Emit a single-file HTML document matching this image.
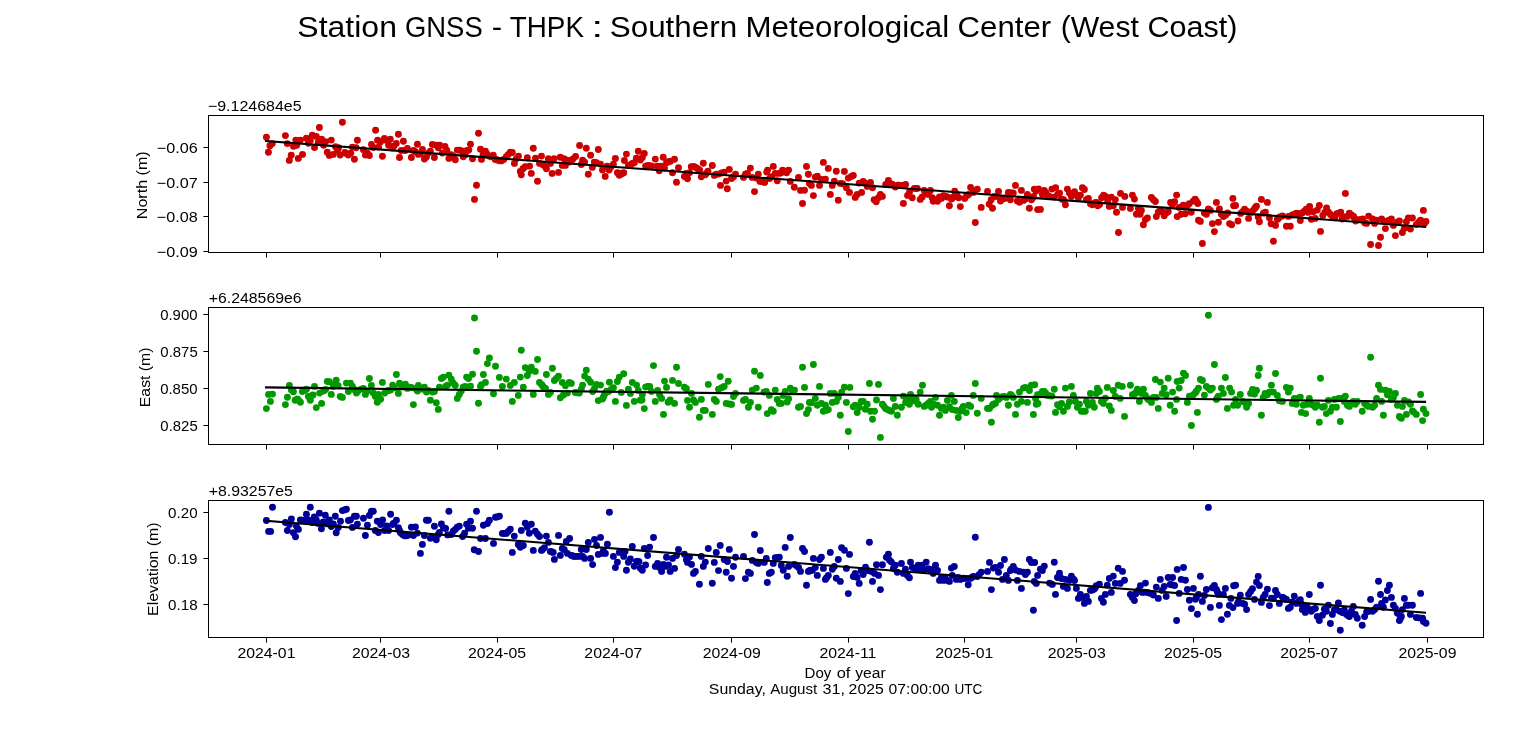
<!DOCTYPE html>
<html lang="en"><head><meta charset="utf-8"><title>Station GNSS - THPK</title>
<style>html,body{margin:0;padding:0;background:#fff;overflow:hidden}body{width:1536px;height:754px;font-family:"Liberation Sans", sans-serif}</style></head>
<body>
<svg width="1536" height="754" viewBox="0 0 1536 754" style="display:block;font-family:'Liberation Sans',sans-serif" fill="#000">
<rect width="1536" height="754" fill="#fff"/>
<g>
<g fill="#cc0000"><circle cx="294.7" cy="145.8" r="3.45"/><circle cx="393.8" cy="146.3" r="3.45"/><circle cx="496.8" cy="159.8" r="3.45"/><circle cx="508.2" cy="154.6" r="3.45"/><circle cx="542.5" cy="164.4" r="3.45"/><circle cx="573.0" cy="159.0" r="3.45"/><circle cx="622.6" cy="173.3" r="3.45"/><circle cx="706.5" cy="173.2" r="3.45"/><circle cx="721.7" cy="173.0" r="3.45"/><circle cx="763.7" cy="182.0" r="3.45"/><circle cx="851.3" cy="176.5" r="3.45"/><circle cx="868.5" cy="184.8" r="3.45"/><circle cx="891.4" cy="184.1" r="3.45"/><circle cx="899.0" cy="185.2" r="3.45"/><circle cx="916.2" cy="188.4" r="3.45"/><circle cx="952.4" cy="198.0" r="3.45"/><circle cx="967.6" cy="195.1" r="3.45"/><circle cx="1011.5" cy="192.8" r="3.45"/><circle cx="1032.5" cy="198.1" r="3.45"/><circle cx="1045.8" cy="192.8" r="3.45"/><circle cx="1095.4" cy="202.7" r="3.45"/><circle cx="1171.6" cy="203.4" r="3.45"/><circle cx="1196.4" cy="201.2" r="3.45"/><circle cx="1255.5" cy="207.5" r="3.45"/><circle cx="1278.4" cy="218.4" r="3.45"/><circle cx="1301.3" cy="213.2" r="3.45"/><circle cx="1331.8" cy="215.5" r="3.45"/><circle cx="1354.6" cy="218.8" r="3.45"/><circle cx="1419.5" cy="221.5" r="3.45"/><circle cx="266.4" cy="137.2" r="3.45"/><circle cx="269.9" cy="145.8" r="3.45"/><circle cx="272.3" cy="143.6" r="3.45"/><circle cx="268.4" cy="152.3" r="3.45"/><circle cx="285.4" cy="135.6" r="3.45"/><circle cx="287.3" cy="143.6" r="3.45"/><circle cx="289.3" cy="160.4" r="3.45"/><circle cx="291.2" cy="155.2" r="3.45"/><circle cx="293.4" cy="146.2" r="3.45"/><circle cx="295.8" cy="140.1" r="3.45"/><circle cx="296.7" cy="145.2" r="3.45"/><circle cx="298.3" cy="158.4" r="3.45"/><circle cx="300.4" cy="140.1" r="3.45"/><circle cx="302.5" cy="154.4" r="3.45"/><circle cx="306.4" cy="138.3" r="3.45"/><circle cx="308.4" cy="143.2" r="3.45"/><circle cx="310.3" cy="140.5" r="3.45"/><circle cx="312.3" cy="135.2" r="3.45"/><circle cx="314.5" cy="147.5" r="3.45"/><circle cx="316.3" cy="136.5" r="3.45"/><circle cx="319.4" cy="127.5" r="3.45"/><circle cx="318.3" cy="142.5" r="3.45"/><circle cx="321.6" cy="139.2" r="3.45"/><circle cx="323.6" cy="145.2" r="3.45"/><circle cx="325.6" cy="141.8" r="3.45"/><circle cx="327.3" cy="152.2" r="3.45"/><circle cx="329.3" cy="155.4" r="3.45"/><circle cx="331.3" cy="140.1" r="3.45"/><circle cx="333.3" cy="154.4" r="3.45"/><circle cx="335.5" cy="146.7" r="3.45"/><circle cx="337.5" cy="150.5" r="3.45"/><circle cx="338.6" cy="147.8" r="3.45"/><circle cx="340.2" cy="155.1" r="3.45"/><circle cx="342.4" cy="122.3" r="3.45"/><circle cx="344.8" cy="152.5" r="3.45"/><circle cx="346.8" cy="153.8" r="3.45"/><circle cx="348.4" cy="155.1" r="3.45"/><circle cx="350.8" cy="153.1" r="3.45"/><circle cx="352.4" cy="147.1" r="3.45"/><circle cx="354.4" cy="159.3" r="3.45"/><circle cx="356.1" cy="147.8" r="3.45"/><circle cx="357.4" cy="140.2" r="3.45"/><circle cx="363.4" cy="149.8" r="3.45"/><circle cx="365.4" cy="155.1" r="3.45"/><circle cx="367.4" cy="153.1" r="3.45"/><circle cx="369.4" cy="155.5" r="3.45"/><circle cx="371.5" cy="144.5" r="3.45"/><circle cx="373.3" cy="147.5" r="3.45"/><circle cx="375.6" cy="130.3" r="3.45"/><circle cx="377.6" cy="140.2" r="3.45"/><circle cx="378.6" cy="147.1" r="3.45"/><circle cx="380.6" cy="141.8" r="3.45"/><circle cx="382.4" cy="156.2" r="3.45"/><circle cx="384.4" cy="138.5" r="3.45"/><circle cx="386.6" cy="140.5" r="3.45"/><circle cx="388.6" cy="145.2" r="3.45"/><circle cx="390.3" cy="139.2" r="3.45"/><circle cx="392.3" cy="148.1" r="3.45"/><circle cx="396.3" cy="143.4" r="3.45"/><circle cx="398.4" cy="134.3" r="3.45"/><circle cx="399.5" cy="157.5" r="3.45"/><circle cx="401.2" cy="150.5" r="3.45"/><circle cx="403.4" cy="141.2" r="3.45"/><circle cx="405.2" cy="150.5" r="3.45"/><circle cx="407.4" cy="148.5" r="3.45"/><circle cx="411.4" cy="157.5" r="3.45"/><circle cx="413.4" cy="150.5" r="3.45"/><circle cx="415.4" cy="151.8" r="3.45"/><circle cx="417.4" cy="144.2" r="3.45"/><circle cx="418.4" cy="154.4" r="3.45"/><circle cx="420.4" cy="153.8" r="3.45"/><circle cx="422.4" cy="149.5" r="3.45"/><circle cx="424.4" cy="159.1" r="3.45"/><circle cx="426.4" cy="157.1" r="3.45"/><circle cx="428.4" cy="153.1" r="3.45"/><circle cx="430.4" cy="151.1" r="3.45"/><circle cx="432.4" cy="144.5" r="3.45"/><circle cx="434.4" cy="157.5" r="3.45"/><circle cx="436.3" cy="145.2" r="3.45"/><circle cx="438.3" cy="147.8" r="3.45"/><circle cx="439.7" cy="145.2" r="3.45"/><circle cx="442.3" cy="153.1" r="3.45"/><circle cx="445.0" cy="146.5" r="3.45"/><circle cx="446.9" cy="150.5" r="3.45"/><circle cx="448.9" cy="158.4" r="3.45"/><circle cx="451.3" cy="154.8" r="3.45"/><circle cx="453.3" cy="156.1" r="3.45"/><circle cx="455.3" cy="159.7" r="3.45"/><circle cx="457.3" cy="150.1" r="3.45"/><circle cx="459.3" cy="150.1" r="3.45"/><circle cx="461.3" cy="150.8" r="3.45"/><circle cx="463.2" cy="156.8" r="3.45"/><circle cx="465.2" cy="154.8" r="3.45"/><circle cx="467.0" cy="150.5" r="3.45"/><circle cx="468.8" cy="150.1" r="3.45"/><circle cx="470.5" cy="144.2" r="3.45"/><circle cx="472.5" cy="158.8" r="3.45"/><circle cx="474.5" cy="199.4" r="3.45"/><circle cx="476.5" cy="185.3" r="3.45"/><circle cx="478.5" cy="133.3" r="3.45"/><circle cx="480.5" cy="149.2" r="3.45"/><circle cx="481.5" cy="159.4" r="3.45"/><circle cx="483.1" cy="154.8" r="3.45"/><circle cx="485.4" cy="151.1" r="3.45"/><circle cx="487.1" cy="154.1" r="3.45"/><circle cx="489.1" cy="156.1" r="3.45"/><circle cx="491.1" cy="156.8" r="3.45"/><circle cx="493.3" cy="155.2" r="3.45"/><circle cx="495.3" cy="159.4" r="3.45"/><circle cx="497.7" cy="160.1" r="3.45"/><circle cx="499.7" cy="160.8" r="3.45"/><circle cx="501.7" cy="160.8" r="3.45"/><circle cx="503.7" cy="159.4" r="3.45"/><circle cx="506.3" cy="156.8" r="3.45"/><circle cx="510.3" cy="152.1" r="3.45"/><circle cx="512.3" cy="152.5" r="3.45"/><circle cx="514.4" cy="163.4" r="3.45"/><circle cx="516.3" cy="158.8" r="3.45"/><circle cx="518.5" cy="156.1" r="3.45"/><circle cx="520.3" cy="171.4" r="3.45"/><circle cx="521.3" cy="174.7" r="3.45"/><circle cx="522.9" cy="168.7" r="3.45"/><circle cx="525.2" cy="166.7" r="3.45"/><circle cx="527.3" cy="157.8" r="3.45"/><circle cx="529.6" cy="166.1" r="3.45"/><circle cx="531.3" cy="173.4" r="3.45"/><circle cx="533.3" cy="148.2" r="3.45"/><circle cx="535.5" cy="158.1" r="3.45"/><circle cx="537.5" cy="181.3" r="3.45"/><circle cx="539.5" cy="163.4" r="3.45"/><circle cx="541.5" cy="156.1" r="3.45"/><circle cx="543.5" cy="164.7" r="3.45"/><circle cx="544.8" cy="166.1" r="3.45"/><circle cx="546.4" cy="168.7" r="3.45"/><circle cx="548.4" cy="158.8" r="3.45"/><circle cx="550.4" cy="163.4" r="3.45"/><circle cx="552.1" cy="173.4" r="3.45"/><circle cx="554.1" cy="158.8" r="3.45"/><circle cx="558.5" cy="172.4" r="3.45"/><circle cx="560.3" cy="157.2" r="3.45"/><circle cx="562.3" cy="165.4" r="3.45"/><circle cx="564.0" cy="158.8" r="3.45"/><circle cx="565.4" cy="165.4" r="3.45"/><circle cx="567.4" cy="160.1" r="3.45"/><circle cx="569.3" cy="162.1" r="3.45"/><circle cx="571.3" cy="160.8" r="3.45"/><circle cx="575.6" cy="156.4" r="3.45"/><circle cx="579.6" cy="145.5" r="3.45"/><circle cx="581.3" cy="164.5" r="3.45"/><circle cx="582.6" cy="160.1" r="3.45"/><circle cx="584.6" cy="162.1" r="3.45"/><circle cx="586.3" cy="148.2" r="3.45"/><circle cx="588.3" cy="174.3" r="3.45"/><circle cx="590.6" cy="155.2" r="3.45"/><circle cx="592.3" cy="167.4" r="3.45"/><circle cx="594.3" cy="162.1" r="3.45"/><circle cx="596.5" cy="162.7" r="3.45"/><circle cx="598.3" cy="149.5" r="3.45"/><circle cx="600.5" cy="164.1" r="3.45"/><circle cx="602.5" cy="170.0" r="3.45"/><circle cx="605.2" cy="176.4" r="3.45"/><circle cx="607.1" cy="166.1" r="3.45"/><circle cx="609.1" cy="170.0" r="3.45"/><circle cx="611.1" cy="166.7" r="3.45"/><circle cx="613.4" cy="164.1" r="3.45"/><circle cx="615.4" cy="158.4" r="3.45"/><circle cx="617.4" cy="172.7" r="3.45"/><circle cx="619.3" cy="175.3" r="3.45"/><circle cx="621.3" cy="174.0" r="3.45"/><circle cx="623.7" cy="172.7" r="3.45"/><circle cx="624.4" cy="160.5" r="3.45"/><circle cx="626.4" cy="154.1" r="3.45"/><circle cx="628.4" cy="165.4" r="3.45"/><circle cx="630.4" cy="164.7" r="3.45"/><circle cx="632.3" cy="163.4" r="3.45"/><circle cx="634.3" cy="162.7" r="3.45"/><circle cx="636.3" cy="158.1" r="3.45"/><circle cx="638.3" cy="151.2" r="3.45"/><circle cx="640.3" cy="160.1" r="3.45"/><circle cx="642.3" cy="157.4" r="3.45"/><circle cx="644.3" cy="153.5" r="3.45"/><circle cx="645.6" cy="166.1" r="3.45"/><circle cx="648.0" cy="165.5" r="3.45"/><circle cx="650.0" cy="165.7" r="3.45"/><circle cx="651.9" cy="166.1" r="3.45"/><circle cx="655.3" cy="159.1" r="3.45"/><circle cx="657.3" cy="166.1" r="3.45"/><circle cx="659.2" cy="170.8" r="3.45"/><circle cx="661.2" cy="166.1" r="3.45"/><circle cx="663.2" cy="157.2" r="3.45"/><circle cx="664.5" cy="168.1" r="3.45"/><circle cx="666.5" cy="162.8" r="3.45"/><circle cx="668.5" cy="161.7" r="3.45"/><circle cx="670.5" cy="161.2" r="3.45"/><circle cx="672.5" cy="172.8" r="3.45"/><circle cx="674.5" cy="159.2" r="3.45"/><circle cx="676.5" cy="182.3" r="3.45"/><circle cx="678.5" cy="167.8" r="3.45"/><circle cx="684.4" cy="176.5" r="3.45"/><circle cx="686.4" cy="173.4" r="3.45"/><circle cx="687.5" cy="178.7" r="3.45"/><circle cx="689.5" cy="172.8" r="3.45"/><circle cx="691.3" cy="166.8" r="3.45"/><circle cx="693.7" cy="166.4" r="3.45"/><circle cx="695.7" cy="167.5" r="3.45"/><circle cx="697.7" cy="168.8" r="3.45"/><circle cx="699.7" cy="170.1" r="3.45"/><circle cx="701.3" cy="176.7" r="3.45"/><circle cx="703.3" cy="163.2" r="3.45"/><circle cx="705.3" cy="174.7" r="3.45"/><circle cx="708.0" cy="171.2" r="3.45"/><circle cx="712.3" cy="165.5" r="3.45"/><circle cx="714.3" cy="175.4" r="3.45"/><circle cx="716.3" cy="174.1" r="3.45"/><circle cx="718.5" cy="174.1" r="3.45"/><circle cx="720.5" cy="185.4" r="3.45"/><circle cx="724.2" cy="172.1" r="3.45"/><circle cx="726.2" cy="181.1" r="3.45"/><circle cx="727.3" cy="188.7" r="3.45"/><circle cx="729.3" cy="169.4" r="3.45"/><circle cx="731.5" cy="178.5" r="3.45"/><circle cx="733.5" cy="176.7" r="3.45"/><circle cx="735.5" cy="174.1" r="3.45"/><circle cx="743.5" cy="177.4" r="3.45"/><circle cx="745.4" cy="174.1" r="3.45"/><circle cx="747.4" cy="173.4" r="3.45"/><circle cx="750.4" cy="168.1" r="3.45"/><circle cx="752.1" cy="177.4" r="3.45"/><circle cx="754.5" cy="191.6" r="3.45"/><circle cx="756.3" cy="178.1" r="3.45"/><circle cx="758.3" cy="174.1" r="3.45"/><circle cx="760.0" cy="181.4" r="3.45"/><circle cx="762.0" cy="181.4" r="3.45"/><circle cx="764.7" cy="182.4" r="3.45"/><circle cx="766.7" cy="172.1" r="3.45"/><circle cx="767.6" cy="170.1" r="3.45"/><circle cx="769.6" cy="178.5" r="3.45"/><circle cx="771.6" cy="176.7" r="3.45"/><circle cx="773.3" cy="166.4" r="3.45"/><circle cx="775.3" cy="173.4" r="3.45"/><circle cx="777.3" cy="180.7" r="3.45"/><circle cx="779.3" cy="173.4" r="3.45"/><circle cx="781.3" cy="172.8" r="3.45"/><circle cx="782.6" cy="170.1" r="3.45"/><circle cx="784.6" cy="171.4" r="3.45"/><circle cx="786.6" cy="172.8" r="3.45"/><circle cx="788.6" cy="170.1" r="3.45"/><circle cx="790.3" cy="181.4" r="3.45"/><circle cx="794.3" cy="187.3" r="3.45"/><circle cx="798.5" cy="177.4" r="3.45"/><circle cx="800.5" cy="190.4" r="3.45"/><circle cx="802.5" cy="203.5" r="3.45"/><circle cx="804.5" cy="190.3" r="3.45"/><circle cx="806.5" cy="166.4" r="3.45"/><circle cx="808.4" cy="174.3" r="3.45"/><circle cx="809.4" cy="183.4" r="3.45"/><circle cx="811.4" cy="185.4" r="3.45"/><circle cx="813.4" cy="195.6" r="3.45"/><circle cx="815.3" cy="177.1" r="3.45"/><circle cx="817.3" cy="176.3" r="3.45"/><circle cx="819.5" cy="185.4" r="3.45"/><circle cx="821.4" cy="179.4" r="3.45"/><circle cx="823.4" cy="162.4" r="3.45"/><circle cx="825.4" cy="179.1" r="3.45"/><circle cx="828.3" cy="168.4" r="3.45"/><circle cx="830.3" cy="194.4" r="3.45"/><circle cx="832.3" cy="185.4" r="3.45"/><circle cx="834.3" cy="181.1" r="3.45"/><circle cx="836.3" cy="171.2" r="3.45"/><circle cx="838.3" cy="200.3" r="3.45"/><circle cx="840.3" cy="183.4" r="3.45"/><circle cx="842.6" cy="183.8" r="3.45"/><circle cx="844.4" cy="171.4" r="3.45"/><circle cx="846.4" cy="187.8" r="3.45"/><circle cx="848.3" cy="178.1" r="3.45"/><circle cx="849.5" cy="192.4" r="3.45"/><circle cx="853.3" cy="175.4" r="3.45"/><circle cx="855.2" cy="197.4" r="3.45"/><circle cx="857.2" cy="194.4" r="3.45"/><circle cx="859.2" cy="183.1" r="3.45"/><circle cx="861.6" cy="192.4" r="3.45"/><circle cx="863.2" cy="181.4" r="3.45"/><circle cx="865.2" cy="183.1" r="3.45"/><circle cx="867.2" cy="186.4" r="3.45"/><circle cx="870.5" cy="182.5" r="3.45"/><circle cx="872.5" cy="187.8" r="3.45"/><circle cx="874.1" cy="199.7" r="3.45"/><circle cx="876.2" cy="201.7" r="3.45"/><circle cx="878.5" cy="197.7" r="3.45"/><circle cx="880.4" cy="194.4" r="3.45"/><circle cx="882.4" cy="196.4" r="3.45"/><circle cx="885.7" cy="184.4" r="3.45"/><circle cx="888.4" cy="180.5" r="3.45"/><circle cx="890.4" cy="183.8" r="3.45"/><circle cx="892.4" cy="184.4" r="3.45"/><circle cx="895.3" cy="187.1" r="3.45"/><circle cx="897.7" cy="185.1" r="3.45"/><circle cx="901.4" cy="185.5" r="3.45"/><circle cx="903.4" cy="203.4" r="3.45"/><circle cx="905.6" cy="184.4" r="3.45"/><circle cx="907.6" cy="195.4" r="3.45"/><circle cx="909.6" cy="191.7" r="3.45"/><circle cx="912.3" cy="197.7" r="3.45"/><circle cx="914.3" cy="188.4" r="3.45"/><circle cx="917.2" cy="188.4" r="3.45"/><circle cx="920.2" cy="199.4" r="3.45"/><circle cx="922.2" cy="197.0" r="3.45"/><circle cx="924.2" cy="190.4" r="3.45"/><circle cx="926.2" cy="193.1" r="3.45"/><circle cx="928.2" cy="194.4" r="3.45"/><circle cx="930.4" cy="190.4" r="3.45"/><circle cx="932.2" cy="197.7" r="3.45"/><circle cx="933.2" cy="201.3" r="3.45"/><circle cx="935.2" cy="199.7" r="3.45"/><circle cx="937.5" cy="201.3" r="3.45"/><circle cx="939.5" cy="197.0" r="3.45"/><circle cx="941.4" cy="198.4" r="3.45"/><circle cx="943.4" cy="195.7" r="3.45"/><circle cx="945.4" cy="196.4" r="3.45"/><circle cx="947.4" cy="197.0" r="3.45"/><circle cx="949.4" cy="205.7" r="3.45"/><circle cx="951.4" cy="199.0" r="3.45"/><circle cx="953.4" cy="197.0" r="3.45"/><circle cx="954.7" cy="191.3" r="3.45"/><circle cx="956.7" cy="194.4" r="3.45"/><circle cx="958.7" cy="197.7" r="3.45"/><circle cx="960.3" cy="206.6" r="3.45"/><circle cx="964.7" cy="198.4" r="3.45"/><circle cx="966.6" cy="195.7" r="3.45"/><circle cx="968.6" cy="194.4" r="3.45"/><circle cx="970.6" cy="187.5" r="3.45"/><circle cx="973.3" cy="192.4" r="3.45"/><circle cx="975.3" cy="222.5" r="3.45"/><circle cx="977.3" cy="189.3" r="3.45"/><circle cx="981.2" cy="207.4" r="3.45"/><circle cx="987.5" cy="191.5" r="3.45"/><circle cx="989.2" cy="204.3" r="3.45"/><circle cx="991.2" cy="199.7" r="3.45"/><circle cx="992.5" cy="208.3" r="3.45"/><circle cx="994.2" cy="196.4" r="3.45"/><circle cx="996.5" cy="196.4" r="3.45"/><circle cx="998.5" cy="191.5" r="3.45"/><circle cx="1000.5" cy="201.0" r="3.45"/><circle cx="1002.5" cy="199.0" r="3.45"/><circle cx="1004.4" cy="198.4" r="3.45"/><circle cx="1006.4" cy="197.7" r="3.45"/><circle cx="1008.4" cy="192.4" r="3.45"/><circle cx="1010.4" cy="199.7" r="3.45"/><circle cx="1013.3" cy="193.1" r="3.45"/><circle cx="1015.5" cy="185.4" r="3.45"/><circle cx="1017.4" cy="201.0" r="3.45"/><circle cx="1019.4" cy="202.3" r="3.45"/><circle cx="1021.4" cy="190.4" r="3.45"/><circle cx="1023.4" cy="200.4" r="3.45"/><circle cx="1025.4" cy="199.0" r="3.45"/><circle cx="1027.4" cy="194.4" r="3.45"/><circle cx="1029.4" cy="208.3" r="3.45"/><circle cx="1031.4" cy="199.7" r="3.45"/><circle cx="1033.6" cy="196.4" r="3.45"/><circle cx="1034.3" cy="189.3" r="3.45"/><circle cx="1036.3" cy="191.1" r="3.45"/><circle cx="1037.6" cy="209.6" r="3.45"/><circle cx="1038.6" cy="188.9" r="3.45"/><circle cx="1040.4" cy="209.4" r="3.45"/><circle cx="1042.4" cy="194.4" r="3.45"/><circle cx="1044.3" cy="190.5" r="3.45"/><circle cx="1047.3" cy="195.1" r="3.45"/><circle cx="1049.3" cy="196.4" r="3.45"/><circle cx="1051.9" cy="189.1" r="3.45"/><circle cx="1053.9" cy="197.1" r="3.45"/><circle cx="1055.6" cy="187.8" r="3.45"/><circle cx="1057.6" cy="194.4" r="3.45"/><circle cx="1059.6" cy="193.1" r="3.45"/><circle cx="1061.6" cy="199.1" r="3.45"/><circle cx="1063.6" cy="199.7" r="3.45"/><circle cx="1065.4" cy="204.8" r="3.45"/><circle cx="1067.4" cy="189.1" r="3.45"/><circle cx="1069.4" cy="193.1" r="3.45"/><circle cx="1071.4" cy="196.4" r="3.45"/><circle cx="1073.4" cy="194.4" r="3.45"/><circle cx="1074.5" cy="191.8" r="3.45"/><circle cx="1076.4" cy="195.1" r="3.45"/><circle cx="1078.4" cy="197.8" r="3.45"/><circle cx="1080.4" cy="195.1" r="3.45"/><circle cx="1082.4" cy="187.8" r="3.45"/><circle cx="1084.4" cy="189.5" r="3.45"/><circle cx="1086.4" cy="199.7" r="3.45"/><circle cx="1088.4" cy="198.4" r="3.45"/><circle cx="1090.4" cy="203.7" r="3.45"/><circle cx="1092.4" cy="204.7" r="3.45"/><circle cx="1094.3" cy="203.1" r="3.45"/><circle cx="1096.3" cy="202.4" r="3.45"/><circle cx="1097.7" cy="205.7" r="3.45"/><circle cx="1099.6" cy="204.4" r="3.45"/><circle cx="1101.6" cy="197.8" r="3.45"/><circle cx="1103.6" cy="195.1" r="3.45"/><circle cx="1105.6" cy="196.4" r="3.45"/><circle cx="1107.6" cy="201.1" r="3.45"/><circle cx="1109.3" cy="206.4" r="3.45"/><circle cx="1111.3" cy="197.1" r="3.45"/><circle cx="1113.3" cy="205.7" r="3.45"/><circle cx="1115.3" cy="199.7" r="3.45"/><circle cx="1116.5" cy="212.3" r="3.45"/><circle cx="1118.5" cy="232.5" r="3.45"/><circle cx="1120.5" cy="193.4" r="3.45"/><circle cx="1122.5" cy="207.4" r="3.45"/><circle cx="1124.8" cy="196.4" r="3.45"/><circle cx="1130.4" cy="208.4" r="3.45"/><circle cx="1132.4" cy="195.1" r="3.45"/><circle cx="1134.4" cy="199.1" r="3.45"/><circle cx="1136.4" cy="214.3" r="3.45"/><circle cx="1138.4" cy="208.4" r="3.45"/><circle cx="1140.1" cy="214.3" r="3.45"/><circle cx="1141.4" cy="210.4" r="3.45"/><circle cx="1143.4" cy="224.7" r="3.45"/><circle cx="1145.4" cy="219.6" r="3.45"/><circle cx="1147.4" cy="217.9" r="3.45"/><circle cx="1151.4" cy="197.4" r="3.45"/><circle cx="1153.4" cy="199.7" r="3.45"/><circle cx="1155.4" cy="201.5" r="3.45"/><circle cx="1156.3" cy="216.6" r="3.45"/><circle cx="1158.3" cy="212.3" r="3.45"/><circle cx="1160.3" cy="210.4" r="3.45"/><circle cx="1162.2" cy="211.7" r="3.45"/><circle cx="1164.2" cy="215.7" r="3.45"/><circle cx="1166.2" cy="213.0" r="3.45"/><circle cx="1168.2" cy="211.7" r="3.45"/><circle cx="1170.6" cy="202.4" r="3.45"/><circle cx="1172.6" cy="204.4" r="3.45"/><circle cx="1174.6" cy="201.7" r="3.45"/><circle cx="1176.6" cy="195.1" r="3.45"/><circle cx="1177.2" cy="216.6" r="3.45"/><circle cx="1179.2" cy="207.4" r="3.45"/><circle cx="1181.2" cy="214.3" r="3.45"/><circle cx="1183.2" cy="205.1" r="3.45"/><circle cx="1185.2" cy="213.7" r="3.45"/><circle cx="1187.2" cy="205.7" r="3.45"/><circle cx="1189.2" cy="203.7" r="3.45"/><circle cx="1191.2" cy="212.3" r="3.45"/><circle cx="1193.2" cy="201.1" r="3.45"/><circle cx="1195.1" cy="199.1" r="3.45"/><circle cx="1197.8" cy="203.5" r="3.45"/><circle cx="1198.5" cy="220.3" r="3.45"/><circle cx="1200.4" cy="221.4" r="3.45"/><circle cx="1202.4" cy="243.5" r="3.45"/><circle cx="1204.4" cy="213.0" r="3.45"/><circle cx="1206.4" cy="214.3" r="3.45"/><circle cx="1208.4" cy="209.0" r="3.45"/><circle cx="1210.4" cy="210.4" r="3.45"/><circle cx="1212.4" cy="223.6" r="3.45"/><circle cx="1214.4" cy="231.6" r="3.45"/><circle cx="1216.4" cy="202.4" r="3.45"/><circle cx="1218.4" cy="222.3" r="3.45"/><circle cx="1219.4" cy="209.0" r="3.45"/><circle cx="1221.4" cy="214.3" r="3.45"/><circle cx="1223.4" cy="216.6" r="3.45"/><circle cx="1225.6" cy="215.0" r="3.45"/><circle cx="1227.6" cy="213.0" r="3.45"/><circle cx="1229.6" cy="223.6" r="3.45"/><circle cx="1231.6" cy="224.7" r="3.45"/><circle cx="1232.9" cy="198.4" r="3.45"/><circle cx="1233.6" cy="205.7" r="3.45"/><circle cx="1235.6" cy="205.5" r="3.45"/><circle cx="1238.0" cy="221.0" r="3.45"/><circle cx="1240.6" cy="213.4" r="3.45"/><circle cx="1242.6" cy="211.7" r="3.45"/><circle cx="1244.6" cy="209.1" r="3.45"/><circle cx="1246.6" cy="211.1" r="3.45"/><circle cx="1248.6" cy="218.4" r="3.45"/><circle cx="1250.6" cy="212.4" r="3.45"/><circle cx="1252.5" cy="211.1" r="3.45"/><circle cx="1254.5" cy="208.8" r="3.45"/><circle cx="1256.5" cy="206.2" r="3.45"/><circle cx="1258.2" cy="217.0" r="3.45"/><circle cx="1259.4" cy="221.7" r="3.45"/><circle cx="1261.4" cy="199.4" r="3.45"/><circle cx="1263.4" cy="213.1" r="3.45"/><circle cx="1265.4" cy="212.1" r="3.45"/><circle cx="1267.4" cy="202.4" r="3.45"/><circle cx="1269.4" cy="217.7" r="3.45"/><circle cx="1271.1" cy="223.7" r="3.45"/><circle cx="1273.4" cy="241.3" r="3.45"/><circle cx="1275.5" cy="225.4" r="3.45"/><circle cx="1277.3" cy="219.4" r="3.45"/><circle cx="1279.7" cy="217.0" r="3.45"/><circle cx="1282.4" cy="216.0" r="3.45"/><circle cx="1286.4" cy="226.3" r="3.45"/><circle cx="1288.4" cy="216.4" r="3.45"/><circle cx="1290.3" cy="226.3" r="3.45"/><circle cx="1292.3" cy="215.0" r="3.45"/><circle cx="1294.3" cy="214.4" r="3.45"/><circle cx="1296.3" cy="213.1" r="3.45"/><circle cx="1298.3" cy="213.7" r="3.45"/><circle cx="1300.3" cy="220.6" r="3.45"/><circle cx="1302.3" cy="213.1" r="3.45"/><circle cx="1304.3" cy="211.1" r="3.45"/><circle cx="1306.3" cy="209.1" r="3.45"/><circle cx="1308.2" cy="212.4" r="3.45"/><circle cx="1309.6" cy="206.4" r="3.45"/><circle cx="1311.3" cy="219.3" r="3.45"/><circle cx="1313.3" cy="211.7" r="3.45"/><circle cx="1315.3" cy="218.4" r="3.45"/><circle cx="1317.3" cy="210.1" r="3.45"/><circle cx="1319.3" cy="205.5" r="3.45"/><circle cx="1320.5" cy="231.4" r="3.45"/><circle cx="1322.8" cy="215.4" r="3.45"/><circle cx="1324.8" cy="212.4" r="3.45"/><circle cx="1326.6" cy="208.0" r="3.45"/><circle cx="1328.5" cy="212.1" r="3.45"/><circle cx="1330.5" cy="214.4" r="3.45"/><circle cx="1332.8" cy="216.4" r="3.45"/><circle cx="1334.8" cy="217.7" r="3.45"/><circle cx="1336.8" cy="213.7" r="3.45"/><circle cx="1338.8" cy="213.1" r="3.45"/><circle cx="1340.7" cy="212.1" r="3.45"/><circle cx="1342.1" cy="219.0" r="3.45"/><circle cx="1344.1" cy="217.0" r="3.45"/><circle cx="1345.4" cy="193.4" r="3.45"/><circle cx="1347.4" cy="216.4" r="3.45"/><circle cx="1349.4" cy="213.1" r="3.45"/><circle cx="1351.4" cy="215.0" r="3.45"/><circle cx="1353.6" cy="216.4" r="3.45"/><circle cx="1355.6" cy="221.0" r="3.45"/><circle cx="1358.6" cy="219.7" r="3.45"/><circle cx="1360.6" cy="219.7" r="3.45"/><circle cx="1362.6" cy="219.0" r="3.45"/><circle cx="1364.6" cy="222.7" r="3.45"/><circle cx="1366.6" cy="223.4" r="3.45"/><circle cx="1368.6" cy="216.1" r="3.45"/><circle cx="1370.6" cy="244.5" r="3.45"/><circle cx="1372.6" cy="219.0" r="3.45"/><circle cx="1374.6" cy="223.4" r="3.45"/><circle cx="1376.6" cy="220.3" r="3.45"/><circle cx="1378.5" cy="245.5" r="3.45"/><circle cx="1380.5" cy="237.3" r="3.45"/><circle cx="1381.6" cy="219.0" r="3.45"/><circle cx="1383.8" cy="221.3" r="3.45"/><circle cx="1385.4" cy="228.6" r="3.45"/><circle cx="1387.4" cy="221.0" r="3.45"/><circle cx="1389.4" cy="220.3" r="3.45"/><circle cx="1391.4" cy="219.0" r="3.45"/><circle cx="1393.4" cy="225.4" r="3.45"/><circle cx="1395.4" cy="235.6" r="3.45"/><circle cx="1397.4" cy="222.3" r="3.45"/><circle cx="1399.4" cy="221.0" r="3.45"/><circle cx="1402.4" cy="232.5" r="3.45"/><circle cx="1404.4" cy="228.3" r="3.45"/><circle cx="1406.4" cy="221.7" r="3.45"/><circle cx="1408.4" cy="218.0" r="3.45"/><circle cx="1410.4" cy="229.0" r="3.45"/><circle cx="1412.4" cy="218.0" r="3.45"/><circle cx="1416.3" cy="224.6" r="3.45"/><circle cx="1418.3" cy="223.0" r="3.45"/><circle cx="1420.6" cy="220.1" r="3.45"/><circle cx="1423.4" cy="210.4" r="3.45"/><circle cx="1424.3" cy="223.7" r="3.45"/><circle cx="1426.0" cy="221.4" r="3.45"/></g>
<line x1="266.08" y1="141.0" x2="1425.0" y2="227.0" stroke="#000" stroke-width="2.1" stroke-linecap="square"/>
<rect x="208.5" y="115.5" width="1275.0" height="137.0" fill="none" stroke="#000" stroke-width="1" shape-rendering="crispEdges"/>
<g fill="#000"><rect x="266" y="253.0" width="1" height="4.6"/><rect x="380" y="253.0" width="1" height="4.6"/><rect x="497" y="253.0" width="1" height="4.6"/><rect x="613" y="253.0" width="1" height="4.6"/><rect x="731" y="253.0" width="1" height="4.6"/><rect x="848" y="253.0" width="1" height="4.6"/><rect x="964" y="253.0" width="1" height="4.6"/><rect x="1076" y="253.0" width="1" height="4.6"/><rect x="1193" y="253.0" width="1" height="4.6"/><rect x="1309" y="253.0" width="1" height="4.6"/><rect x="1427" y="253.0" width="1" height="4.6"/><rect x="203.4" y="147" width="4.6" height="1"/><rect x="203.4" y="182" width="4.6" height="1"/><rect x="203.4" y="216" width="4.6" height="1"/><rect x="203.4" y="251" width="4.6" height="1"/></g>
</g>
<g>
<g fill="#009900"><circle cx="298.5" cy="400.3" r="3.45"/><circle cx="357.6" cy="391.6" r="3.45"/><circle cx="361.4" cy="389.1" r="3.45"/><circle cx="542.5" cy="385.8" r="3.45"/><circle cx="603.5" cy="396.7" r="3.45"/><circle cx="611.1" cy="389.4" r="3.45"/><circle cx="721.7" cy="387.7" r="3.45"/><circle cx="729.3" cy="404.0" r="3.45"/><circle cx="826.6" cy="410.2" r="3.45"/><circle cx="883.8" cy="406.1" r="3.45"/><circle cx="906.6" cy="400.9" r="3.45"/><circle cx="961.9" cy="408.7" r="3.45"/><circle cx="992.4" cy="405.3" r="3.45"/><circle cx="1011.5" cy="395.5" r="3.45"/><circle cx="1045.8" cy="393.4" r="3.45"/><circle cx="1049.6" cy="395.7" r="3.45"/><circle cx="1135.4" cy="393.1" r="3.45"/><circle cx="1148.7" cy="399.8" r="3.45"/><circle cx="1196.4" cy="391.2" r="3.45"/><circle cx="1217.4" cy="397.7" r="3.45"/><circle cx="1255.5" cy="390.2" r="3.45"/><circle cx="1339.4" cy="398.5" r="3.45"/><circle cx="1400.4" cy="417.4" r="3.45"/><circle cx="1413.7" cy="412.1" r="3.45"/><circle cx="266.4" cy="408.6" r="3.45"/><circle cx="268.6" cy="394.4" r="3.45"/><circle cx="270.4" cy="401.4" r="3.45"/><circle cx="272.5" cy="394.1" r="3.45"/><circle cx="285.4" cy="404.6" r="3.45"/><circle cx="287.4" cy="397.3" r="3.45"/><circle cx="289.4" cy="385.4" r="3.45"/><circle cx="291.4" cy="390.1" r="3.45"/><circle cx="293.4" cy="391.7" r="3.45"/><circle cx="295.1" cy="400.3" r="3.45"/><circle cx="297.3" cy="399.0" r="3.45"/><circle cx="300.4" cy="402.3" r="3.45"/><circle cx="302.4" cy="391.5" r="3.45"/><circle cx="304.4" cy="390.4" r="3.45"/><circle cx="306.4" cy="389.3" r="3.45"/><circle cx="308.4" cy="396.4" r="3.45"/><circle cx="310.3" cy="400.3" r="3.45"/><circle cx="311.7" cy="395.7" r="3.45"/><circle cx="313.0" cy="395.0" r="3.45"/><circle cx="314.5" cy="386.4" r="3.45"/><circle cx="316.3" cy="407.6" r="3.45"/><circle cx="319.6" cy="393.1" r="3.45"/><circle cx="321.6" cy="403.4" r="3.45"/><circle cx="323.6" cy="391.1" r="3.45"/><circle cx="325.6" cy="389.5" r="3.45"/><circle cx="327.3" cy="381.4" r="3.45"/><circle cx="329.3" cy="381.8" r="3.45"/><circle cx="331.3" cy="394.4" r="3.45"/><circle cx="333.3" cy="386.4" r="3.45"/><circle cx="335.3" cy="383.8" r="3.45"/><circle cx="336.2" cy="380.2" r="3.45"/><circle cx="338.2" cy="385.8" r="3.45"/><circle cx="340.2" cy="396.4" r="3.45"/><circle cx="342.4" cy="397.4" r="3.45"/><circle cx="346.4" cy="383.1" r="3.45"/><circle cx="348.4" cy="391.5" r="3.45"/><circle cx="350.4" cy="383.1" r="3.45"/><circle cx="352.4" cy="386.4" r="3.45"/><circle cx="354.4" cy="389.7" r="3.45"/><circle cx="356.4" cy="393.1" r="3.45"/><circle cx="358.8" cy="390.1" r="3.45"/><circle cx="363.4" cy="388.4" r="3.45"/><circle cx="365.4" cy="394.4" r="3.45"/><circle cx="367.4" cy="391.1" r="3.45"/><circle cx="369.4" cy="378.5" r="3.45"/><circle cx="371.4" cy="385.4" r="3.45"/><circle cx="373.3" cy="393.1" r="3.45"/><circle cx="375.3" cy="396.4" r="3.45"/><circle cx="377.3" cy="402.3" r="3.45"/><circle cx="378.4" cy="394.4" r="3.45"/><circle cx="380.6" cy="399.3" r="3.45"/><circle cx="382.4" cy="382.4" r="3.45"/><circle cx="384.6" cy="393.1" r="3.45"/><circle cx="386.6" cy="391.1" r="3.45"/><circle cx="388.6" cy="390.4" r="3.45"/><circle cx="390.6" cy="390.1" r="3.45"/><circle cx="392.6" cy="385.1" r="3.45"/><circle cx="394.6" cy="387.7" r="3.45"/><circle cx="396.4" cy="374.5" r="3.45"/><circle cx="398.4" cy="393.4" r="3.45"/><circle cx="399.5" cy="383.1" r="3.45"/><circle cx="401.5" cy="385.8" r="3.45"/><circle cx="403.4" cy="385.8" r="3.45"/><circle cx="405.4" cy="384.2" r="3.45"/><circle cx="407.4" cy="388.4" r="3.45"/><circle cx="409.4" cy="387.1" r="3.45"/><circle cx="411.4" cy="387.5" r="3.45"/><circle cx="413.4" cy="404.6" r="3.45"/><circle cx="415.4" cy="388.4" r="3.45"/><circle cx="417.4" cy="391.1" r="3.45"/><circle cx="418.4" cy="385.5" r="3.45"/><circle cx="420.4" cy="388.8" r="3.45"/><circle cx="422.4" cy="389.1" r="3.45"/><circle cx="424.4" cy="387.1" r="3.45"/><circle cx="426.4" cy="392.1" r="3.45"/><circle cx="428.4" cy="390.4" r="3.45"/><circle cx="430.4" cy="400.3" r="3.45"/><circle cx="432.4" cy="392.1" r="3.45"/><circle cx="434.4" cy="391.5" r="3.45"/><circle cx="436.3" cy="402.7" r="3.45"/><circle cx="438.3" cy="409.4" r="3.45"/><circle cx="439.4" cy="387.1" r="3.45"/><circle cx="441.4" cy="378.5" r="3.45"/><circle cx="443.4" cy="377.1" r="3.45"/><circle cx="445.6" cy="386.4" r="3.45"/><circle cx="447.6" cy="385.1" r="3.45"/><circle cx="448.9" cy="375.1" r="3.45"/><circle cx="451.3" cy="379.1" r="3.45"/><circle cx="453.3" cy="383.1" r="3.45"/><circle cx="455.3" cy="385.5" r="3.45"/><circle cx="457.3" cy="398.4" r="3.45"/><circle cx="459.3" cy="394.4" r="3.45"/><circle cx="461.3" cy="391.1" r="3.45"/><circle cx="463.2" cy="387.1" r="3.45"/><circle cx="465.2" cy="386.4" r="3.45"/><circle cx="466.6" cy="377.1" r="3.45"/><circle cx="468.5" cy="378.5" r="3.45"/><circle cx="470.5" cy="386.2" r="3.45"/><circle cx="472.5" cy="374.2" r="3.45"/><circle cx="474.5" cy="318.0" r="3.45"/><circle cx="476.5" cy="351.3" r="3.45"/><circle cx="478.5" cy="403.3" r="3.45"/><circle cx="480.5" cy="386.4" r="3.45"/><circle cx="481.5" cy="384.8" r="3.45"/><circle cx="483.4" cy="374.5" r="3.45"/><circle cx="485.4" cy="382.4" r="3.45"/><circle cx="487.4" cy="363.6" r="3.45"/><circle cx="489.4" cy="357.9" r="3.45"/><circle cx="493.5" cy="393.7" r="3.45"/><circle cx="495.5" cy="366.3" r="3.45"/><circle cx="499.4" cy="377.4" r="3.45"/><circle cx="502.4" cy="386.4" r="3.45"/><circle cx="506.3" cy="379.1" r="3.45"/><circle cx="510.3" cy="385.5" r="3.45"/><circle cx="512.3" cy="401.4" r="3.45"/><circle cx="514.3" cy="382.4" r="3.45"/><circle cx="518.3" cy="395.4" r="3.45"/><circle cx="520.3" cy="377.1" r="3.45"/><circle cx="521.3" cy="350.3" r="3.45"/><circle cx="523.3" cy="387.1" r="3.45"/><circle cx="525.3" cy="367.6" r="3.45"/><circle cx="527.3" cy="375.5" r="3.45"/><circle cx="529.3" cy="371.2" r="3.45"/><circle cx="531.3" cy="367.2" r="3.45"/><circle cx="533.3" cy="394.4" r="3.45"/><circle cx="535.3" cy="371.4" r="3.45"/><circle cx="537.5" cy="359.5" r="3.45"/><circle cx="539.5" cy="382.4" r="3.45"/><circle cx="541.5" cy="384.4" r="3.45"/><circle cx="543.5" cy="387.1" r="3.45"/><circle cx="545.5" cy="388.4" r="3.45"/><circle cx="546.4" cy="374.5" r="3.45"/><circle cx="548.4" cy="394.4" r="3.45"/><circle cx="550.4" cy="392.4" r="3.45"/><circle cx="552.4" cy="368.2" r="3.45"/><circle cx="554.4" cy="380.5" r="3.45"/><circle cx="556.3" cy="378.5" r="3.45"/><circle cx="558.5" cy="376.1" r="3.45"/><circle cx="560.3" cy="397.7" r="3.45"/><circle cx="562.3" cy="382.4" r="3.45"/><circle cx="563.4" cy="395.0" r="3.45"/><circle cx="565.4" cy="385.8" r="3.45"/><circle cx="567.4" cy="393.1" r="3.45"/><circle cx="569.3" cy="382.4" r="3.45"/><circle cx="571.3" cy="383.4" r="3.45"/><circle cx="575.3" cy="392.4" r="3.45"/><circle cx="577.3" cy="392.7" r="3.45"/><circle cx="579.3" cy="393.1" r="3.45"/><circle cx="581.3" cy="389.1" r="3.45"/><circle cx="582.6" cy="385.1" r="3.45"/><circle cx="584.6" cy="376.1" r="3.45"/><circle cx="586.3" cy="370.2" r="3.45"/><circle cx="588.3" cy="379.1" r="3.45"/><circle cx="590.6" cy="382.2" r="3.45"/><circle cx="592.6" cy="391.5" r="3.45"/><circle cx="594.5" cy="388.4" r="3.45"/><circle cx="596.5" cy="384.4" r="3.45"/><circle cx="598.3" cy="400.6" r="3.45"/><circle cx="600.5" cy="385.1" r="3.45"/><circle cx="602.5" cy="399.0" r="3.45"/><circle cx="604.5" cy="394.4" r="3.45"/><circle cx="606.5" cy="391.1" r="3.45"/><circle cx="608.5" cy="391.5" r="3.45"/><circle cx="609.4" cy="382.2" r="3.45"/><circle cx="613.4" cy="387.7" r="3.45"/><circle cx="615.4" cy="401.4" r="3.45"/><circle cx="617.4" cy="381.5" r="3.45"/><circle cx="619.3" cy="377.1" r="3.45"/><circle cx="621.3" cy="392.4" r="3.45"/><circle cx="623.7" cy="373.8" r="3.45"/><circle cx="626.4" cy="405.4" r="3.45"/><circle cx="628.4" cy="389.1" r="3.45"/><circle cx="630.4" cy="393.4" r="3.45"/><circle cx="632.3" cy="382.4" r="3.45"/><circle cx="634.3" cy="401.4" r="3.45"/><circle cx="636.6" cy="385.1" r="3.45"/><circle cx="638.3" cy="390.4" r="3.45"/><circle cx="640.3" cy="400.3" r="3.45"/><circle cx="642.3" cy="394.4" r="3.45"/><circle cx="644.3" cy="408.6" r="3.45"/><circle cx="645.6" cy="387.1" r="3.45"/><circle cx="642.0" cy="400.0" r="3.45"/><circle cx="647.6" cy="386.4" r="3.45"/><circle cx="649.6" cy="386.4" r="3.45"/><circle cx="651.5" cy="391.4" r="3.45"/><circle cx="653.5" cy="365.6" r="3.45"/><circle cx="655.3" cy="401.4" r="3.45"/><circle cx="657.6" cy="390.5" r="3.45"/><circle cx="659.6" cy="394.7" r="3.45"/><circle cx="661.6" cy="398.4" r="3.45"/><circle cx="663.5" cy="414.4" r="3.45"/><circle cx="664.5" cy="381.1" r="3.45"/><circle cx="666.5" cy="387.4" r="3.45"/><circle cx="668.1" cy="402.3" r="3.45"/><circle cx="670.2" cy="400.0" r="3.45"/><circle cx="672.5" cy="380.4" r="3.45"/><circle cx="674.5" cy="403.4" r="3.45"/><circle cx="676.5" cy="367.3" r="3.45"/><circle cx="678.5" cy="383.5" r="3.45"/><circle cx="684.4" cy="387.2" r="3.45"/><circle cx="686.4" cy="388.8" r="3.45"/><circle cx="687.5" cy="400.4" r="3.45"/><circle cx="689.5" cy="407.3" r="3.45"/><circle cx="691.5" cy="393.4" r="3.45"/><circle cx="693.5" cy="400.0" r="3.45"/><circle cx="695.4" cy="402.4" r="3.45"/><circle cx="699.4" cy="417.3" r="3.45"/><circle cx="701.3" cy="399.4" r="3.45"/><circle cx="703.3" cy="410.4" r="3.45"/><circle cx="705.3" cy="410.4" r="3.45"/><circle cx="708.3" cy="384.4" r="3.45"/><circle cx="712.3" cy="414.4" r="3.45"/><circle cx="714.3" cy="399.4" r="3.45"/><circle cx="716.3" cy="401.4" r="3.45"/><circle cx="718.5" cy="389.2" r="3.45"/><circle cx="720.2" cy="376.6" r="3.45"/><circle cx="724.2" cy="386.5" r="3.45"/><circle cx="726.2" cy="403.4" r="3.45"/><circle cx="728.2" cy="381.2" r="3.45"/><circle cx="731.5" cy="404.4" r="3.45"/><circle cx="733.5" cy="396.5" r="3.45"/><circle cx="735.5" cy="393.4" r="3.45"/><circle cx="743.5" cy="400.4" r="3.45"/><circle cx="745.4" cy="399.4" r="3.45"/><circle cx="748.4" cy="407.3" r="3.45"/><circle cx="750.4" cy="402.4" r="3.45"/><circle cx="752.3" cy="390.1" r="3.45"/><circle cx="754.5" cy="371.3" r="3.45"/><circle cx="756.3" cy="388.1" r="3.45"/><circle cx="758.3" cy="407.3" r="3.45"/><circle cx="760.3" cy="375.5" r="3.45"/><circle cx="764.0" cy="392.1" r="3.45"/><circle cx="766.3" cy="391.4" r="3.45"/><circle cx="767.3" cy="413.6" r="3.45"/><circle cx="769.3" cy="395.4" r="3.45"/><circle cx="771.3" cy="409.6" r="3.45"/><circle cx="773.3" cy="411.3" r="3.45"/><circle cx="775.3" cy="390.1" r="3.45"/><circle cx="777.3" cy="399.4" r="3.45"/><circle cx="779.3" cy="403.4" r="3.45"/><circle cx="781.3" cy="403.4" r="3.45"/><circle cx="783.2" cy="395.4" r="3.45"/><circle cx="785.2" cy="391.4" r="3.45"/><circle cx="787.2" cy="402.0" r="3.45"/><circle cx="788.6" cy="398.7" r="3.45"/><circle cx="790.3" cy="388.1" r="3.45"/><circle cx="792.3" cy="390.8" r="3.45"/><circle cx="794.5" cy="390.1" r="3.45"/><circle cx="798.5" cy="407.3" r="3.45"/><circle cx="800.5" cy="406.4" r="3.45"/><circle cx="802.5" cy="367.3" r="3.45"/><circle cx="804.5" cy="387.4" r="3.45"/><circle cx="806.5" cy="413.6" r="3.45"/><circle cx="808.4" cy="409.6" r="3.45"/><circle cx="809.4" cy="402.4" r="3.45"/><circle cx="811.4" cy="402.7" r="3.45"/><circle cx="813.4" cy="364.5" r="3.45"/><circle cx="815.3" cy="398.4" r="3.45"/><circle cx="817.3" cy="405.3" r="3.45"/><circle cx="819.5" cy="386.4" r="3.45"/><circle cx="821.4" cy="403.4" r="3.45"/><circle cx="823.4" cy="411.3" r="3.45"/><circle cx="825.4" cy="405.3" r="3.45"/><circle cx="828.3" cy="409.6" r="3.45"/><circle cx="830.3" cy="393.4" r="3.45"/><circle cx="832.3" cy="402.4" r="3.45"/><circle cx="834.3" cy="393.4" r="3.45"/><circle cx="836.3" cy="401.4" r="3.45"/><circle cx="838.3" cy="397.4" r="3.45"/><circle cx="840.3" cy="415.3" r="3.45"/><circle cx="841.6" cy="392.1" r="3.45"/><circle cx="844.4" cy="387.2" r="3.45"/><circle cx="846.4" cy="402.4" r="3.45"/><circle cx="848.3" cy="431.5" r="3.45"/><circle cx="849.9" cy="387.4" r="3.45"/><circle cx="853.3" cy="406.7" r="3.45"/><circle cx="855.2" cy="405.1" r="3.45"/><circle cx="857.2" cy="412.6" r="3.45"/><circle cx="859.2" cy="407.3" r="3.45"/><circle cx="861.2" cy="401.4" r="3.45"/><circle cx="863.2" cy="401.4" r="3.45"/><circle cx="865.2" cy="409.3" r="3.45"/><circle cx="867.2" cy="404.3" r="3.45"/><circle cx="869.4" cy="383.5" r="3.45"/><circle cx="870.5" cy="411.3" r="3.45"/><circle cx="872.5" cy="419.3" r="3.45"/><circle cx="874.5" cy="411.3" r="3.45"/><circle cx="876.5" cy="400.0" r="3.45"/><circle cx="878.5" cy="384.4" r="3.45"/><circle cx="880.4" cy="437.4" r="3.45"/><circle cx="882.4" cy="404.3" r="3.45"/><circle cx="885.5" cy="408.4" r="3.45"/><circle cx="887.5" cy="409.6" r="3.45"/><circle cx="889.5" cy="410.4" r="3.45"/><circle cx="891.4" cy="411.3" r="3.45"/><circle cx="893.4" cy="398.4" r="3.45"/><circle cx="895.3" cy="406.4" r="3.45"/><circle cx="897.3" cy="415.3" r="3.45"/><circle cx="901.4" cy="407.3" r="3.45"/><circle cx="903.4" cy="396.1" r="3.45"/><circle cx="905.6" cy="402.4" r="3.45"/><circle cx="907.6" cy="399.4" r="3.45"/><circle cx="909.4" cy="404.3" r="3.45"/><circle cx="910.5" cy="394.5" r="3.45"/><circle cx="912.3" cy="399.4" r="3.45"/><circle cx="914.3" cy="400.7" r="3.45"/><circle cx="916.2" cy="399.4" r="3.45"/><circle cx="918.2" cy="404.3" r="3.45"/><circle cx="920.2" cy="392.1" r="3.45"/><circle cx="922.5" cy="385.2" r="3.45"/><circle cx="924.2" cy="406.4" r="3.45"/><circle cx="926.2" cy="405.3" r="3.45"/><circle cx="928.2" cy="403.4" r="3.45"/><circle cx="930.4" cy="401.4" r="3.45"/><circle cx="931.5" cy="407.3" r="3.45"/><circle cx="933.5" cy="404.3" r="3.45"/><circle cx="935.5" cy="397.4" r="3.45"/><circle cx="937.5" cy="405.3" r="3.45"/><circle cx="939.5" cy="415.3" r="3.45"/><circle cx="941.4" cy="408.4" r="3.45"/><circle cx="943.4" cy="407.3" r="3.45"/><circle cx="945.4" cy="410.4" r="3.45"/><circle cx="947.4" cy="400.4" r="3.45"/><circle cx="949.4" cy="406.7" r="3.45"/><circle cx="951.4" cy="395.4" r="3.45"/><circle cx="952.3" cy="409.6" r="3.45"/><circle cx="954.3" cy="401.4" r="3.45"/><circle cx="956.3" cy="410.4" r="3.45"/><circle cx="958.3" cy="417.5" r="3.45"/><circle cx="960.3" cy="411.3" r="3.45"/><circle cx="963.3" cy="406.4" r="3.45"/><circle cx="966.2" cy="412.6" r="3.45"/><circle cx="968.6" cy="405.3" r="3.45"/><circle cx="970.6" cy="406.4" r="3.45"/><circle cx="973.3" cy="395.4" r="3.45"/><circle cx="975.3" cy="383.5" r="3.45"/><circle cx="977.3" cy="413.3" r="3.45"/><circle cx="981.2" cy="398.4" r="3.45"/><circle cx="987.5" cy="408.4" r="3.45"/><circle cx="989.5" cy="408.4" r="3.45"/><circle cx="991.4" cy="422.3" r="3.45"/><circle cx="993.4" cy="404.3" r="3.45"/><circle cx="995.4" cy="403.4" r="3.45"/><circle cx="996.5" cy="395.4" r="3.45"/><circle cx="998.5" cy="399.4" r="3.45"/><circle cx="1000.5" cy="397.4" r="3.45"/><circle cx="1002.5" cy="396.7" r="3.45"/><circle cx="1004.4" cy="396.5" r="3.45"/><circle cx="1006.4" cy="397.4" r="3.45"/><circle cx="1008.4" cy="405.3" r="3.45"/><circle cx="1010.4" cy="394.5" r="3.45"/><circle cx="1013.3" cy="397.4" r="3.45"/><circle cx="1015.5" cy="414.4" r="3.45"/><circle cx="1017.4" cy="404.3" r="3.45"/><circle cx="1019.4" cy="392.1" r="3.45"/><circle cx="1021.4" cy="401.4" r="3.45"/><circle cx="1023.4" cy="388.1" r="3.45"/><circle cx="1025.4" cy="387.4" r="3.45"/><circle cx="1027.4" cy="402.4" r="3.45"/><circle cx="1029.4" cy="390.5" r="3.45"/><circle cx="1031.4" cy="385.2" r="3.45"/><circle cx="1033.4" cy="414.4" r="3.45"/><circle cx="1035.6" cy="398.4" r="3.45"/><circle cx="1036.3" cy="404.3" r="3.45"/><circle cx="1037.6" cy="394.7" r="3.45"/><circle cx="1034.7" cy="384.8" r="3.45"/><circle cx="1038.0" cy="403.4" r="3.45"/><circle cx="1040.4" cy="394.1" r="3.45"/><circle cx="1042.4" cy="391.4" r="3.45"/><circle cx="1044.3" cy="391.4" r="3.45"/><circle cx="1047.3" cy="395.4" r="3.45"/><circle cx="1051.9" cy="396.1" r="3.45"/><circle cx="1054.3" cy="389.2" r="3.45"/><circle cx="1055.5" cy="412.4" r="3.45"/><circle cx="1057.5" cy="404.7" r="3.45"/><circle cx="1059.5" cy="406.7" r="3.45"/><circle cx="1061.5" cy="403.4" r="3.45"/><circle cx="1063.4" cy="411.3" r="3.45"/><circle cx="1065.4" cy="388.1" r="3.45"/><circle cx="1067.4" cy="406.4" r="3.45"/><circle cx="1069.4" cy="402.0" r="3.45"/><circle cx="1071.4" cy="386.4" r="3.45"/><circle cx="1073.4" cy="395.4" r="3.45"/><circle cx="1075.4" cy="401.4" r="3.45"/><circle cx="1077.4" cy="407.3" r="3.45"/><circle cx="1079.4" cy="404.3" r="3.45"/><circle cx="1081.3" cy="411.3" r="3.45"/><circle cx="1083.3" cy="411.3" r="3.45"/><circle cx="1085.3" cy="411.3" r="3.45"/><circle cx="1086.4" cy="401.4" r="3.45"/><circle cx="1088.4" cy="405.3" r="3.45"/><circle cx="1090.4" cy="393.4" r="3.45"/><circle cx="1092.4" cy="402.4" r="3.45"/><circle cx="1094.3" cy="407.3" r="3.45"/><circle cx="1096.3" cy="393.4" r="3.45"/><circle cx="1097.4" cy="388.1" r="3.45"/><circle cx="1099.4" cy="391.4" r="3.45"/><circle cx="1101.4" cy="401.4" r="3.45"/><circle cx="1103.4" cy="403.4" r="3.45"/><circle cx="1105.4" cy="398.1" r="3.45"/><circle cx="1107.3" cy="387.4" r="3.45"/><circle cx="1109.3" cy="406.0" r="3.45"/><circle cx="1111.3" cy="410.4" r="3.45"/><circle cx="1113.3" cy="390.5" r="3.45"/><circle cx="1115.3" cy="396.5" r="3.45"/><circle cx="1118.2" cy="385.2" r="3.45"/><circle cx="1120.2" cy="398.4" r="3.45"/><circle cx="1122.2" cy="386.4" r="3.45"/><circle cx="1124.5" cy="416.4" r="3.45"/><circle cx="1130.4" cy="385.2" r="3.45"/><circle cx="1132.4" cy="394.7" r="3.45"/><circle cx="1134.4" cy="394.1" r="3.45"/><circle cx="1136.4" cy="392.1" r="3.45"/><circle cx="1137.4" cy="389.2" r="3.45"/><circle cx="1139.4" cy="401.4" r="3.45"/><circle cx="1141.4" cy="393.4" r="3.45"/><circle cx="1143.4" cy="389.2" r="3.45"/><circle cx="1145.4" cy="395.4" r="3.45"/><circle cx="1147.4" cy="398.4" r="3.45"/><circle cx="1151.4" cy="402.4" r="3.45"/><circle cx="1153.4" cy="397.4" r="3.45"/><circle cx="1155.4" cy="379.5" r="3.45"/><circle cx="1156.3" cy="397.4" r="3.45"/><circle cx="1158.3" cy="408.4" r="3.45"/><circle cx="1160.3" cy="382.1" r="3.45"/><circle cx="1162.2" cy="393.4" r="3.45"/><circle cx="1164.2" cy="388.1" r="3.45"/><circle cx="1166.2" cy="394.7" r="3.45"/><circle cx="1168.2" cy="378.2" r="3.45"/><circle cx="1170.2" cy="405.3" r="3.45"/><circle cx="1172.6" cy="392.1" r="3.45"/><circle cx="1174.6" cy="411.3" r="3.45"/><circle cx="1176.6" cy="399.4" r="3.45"/><circle cx="1177.2" cy="381.5" r="3.45"/><circle cx="1179.2" cy="388.1" r="3.45"/><circle cx="1181.2" cy="380.5" r="3.45"/><circle cx="1183.5" cy="373.2" r="3.45"/><circle cx="1185.5" cy="375.5" r="3.45"/><circle cx="1187.4" cy="402.4" r="3.45"/><circle cx="1189.4" cy="396.1" r="3.45"/><circle cx="1191.4" cy="425.5" r="3.45"/><circle cx="1193.4" cy="394.7" r="3.45"/><circle cx="1195.4" cy="392.7" r="3.45"/><circle cx="1197.4" cy="412.4" r="3.45"/><circle cx="1198.5" cy="388.1" r="3.45"/><circle cx="1200.4" cy="379.5" r="3.45"/><circle cx="1202.4" cy="380.5" r="3.45"/><circle cx="1204.4" cy="395.1" r="3.45"/><circle cx="1206.4" cy="386.4" r="3.45"/><circle cx="1208.4" cy="388.1" r="3.45"/><circle cx="1210.4" cy="390.1" r="3.45"/><circle cx="1212.4" cy="388.1" r="3.45"/><circle cx="1214.4" cy="364.5" r="3.45"/><circle cx="1216.4" cy="399.4" r="3.45"/><circle cx="1218.4" cy="396.1" r="3.45"/><circle cx="1221.4" cy="388.1" r="3.45"/><circle cx="1223.4" cy="393.4" r="3.45"/><circle cx="1225.4" cy="377.5" r="3.45"/><circle cx="1227.4" cy="408.4" r="3.45"/><circle cx="1229.6" cy="388.1" r="3.45"/><circle cx="1231.6" cy="392.1" r="3.45"/><circle cx="1233.6" cy="405.3" r="3.45"/><circle cx="1208.4" cy="315.3" r="3.45"/><circle cx="1235.6" cy="399.4" r="3.45"/><circle cx="1237.6" cy="405.3" r="3.45"/><circle cx="1240.3" cy="394.5" r="3.45"/><circle cx="1242.6" cy="401.4" r="3.45"/><circle cx="1244.6" cy="402.4" r="3.45"/><circle cx="1246.6" cy="407.3" r="3.45"/><circle cx="1248.6" cy="403.4" r="3.45"/><circle cx="1250.6" cy="393.4" r="3.45"/><circle cx="1252.5" cy="389.4" r="3.45"/><circle cx="1254.5" cy="394.1" r="3.45"/><circle cx="1256.5" cy="390.5" r="3.45"/><circle cx="1258.2" cy="375.5" r="3.45"/><circle cx="1259.4" cy="368.2" r="3.45"/><circle cx="1261.4" cy="415.3" r="3.45"/><circle cx="1263.2" cy="397.4" r="3.45"/><circle cx="1265.1" cy="393.4" r="3.45"/><circle cx="1267.4" cy="394.7" r="3.45"/><circle cx="1269.4" cy="392.1" r="3.45"/><circle cx="1271.4" cy="385.2" r="3.45"/><circle cx="1273.4" cy="392.1" r="3.45"/><circle cx="1275.5" cy="373.5" r="3.45"/><circle cx="1277.3" cy="395.4" r="3.45"/><circle cx="1279.3" cy="400.7" r="3.45"/><circle cx="1282.4" cy="401.4" r="3.45"/><circle cx="1286.4" cy="387.4" r="3.45"/><circle cx="1288.4" cy="392.1" r="3.45"/><circle cx="1290.3" cy="388.1" r="3.45"/><circle cx="1292.3" cy="403.4" r="3.45"/><circle cx="1294.3" cy="398.4" r="3.45"/><circle cx="1296.3" cy="404.3" r="3.45"/><circle cx="1298.3" cy="398.1" r="3.45"/><circle cx="1300.3" cy="397.1" r="3.45"/><circle cx="1301.4" cy="412.4" r="3.45"/><circle cx="1303.3" cy="405.3" r="3.45"/><circle cx="1305.6" cy="413.6" r="3.45"/><circle cx="1307.3" cy="404.3" r="3.45"/><circle cx="1309.3" cy="398.4" r="3.45"/><circle cx="1311.3" cy="404.3" r="3.45"/><circle cx="1313.3" cy="405.3" r="3.45"/><circle cx="1315.3" cy="407.3" r="3.45"/><circle cx="1317.3" cy="405.3" r="3.45"/><circle cx="1319.3" cy="422.3" r="3.45"/><circle cx="1320.5" cy="378.2" r="3.45"/><circle cx="1322.4" cy="407.3" r="3.45"/><circle cx="1324.4" cy="406.4" r="3.45"/><circle cx="1326.4" cy="413.6" r="3.45"/><circle cx="1328.4" cy="400.4" r="3.45"/><circle cx="1330.4" cy="411.3" r="3.45"/><circle cx="1332.4" cy="407.3" r="3.45"/><circle cx="1334.4" cy="399.4" r="3.45"/><circle cx="1336.4" cy="407.3" r="3.45"/><circle cx="1338.4" cy="398.7" r="3.45"/><circle cx="1340.3" cy="421.5" r="3.45"/><circle cx="1342.3" cy="398.1" r="3.45"/><circle cx="1344.3" cy="401.4" r="3.45"/><circle cx="1345.4" cy="396.1" r="3.45"/><circle cx="1347.4" cy="405.3" r="3.45"/><circle cx="1349.4" cy="406.4" r="3.45"/><circle cx="1351.4" cy="403.4" r="3.45"/><circle cx="1353.3" cy="401.4" r="3.45"/><circle cx="1355.3" cy="404.3" r="3.45"/><circle cx="1357.3" cy="401.4" r="3.45"/><circle cx="1362.2" cy="411.3" r="3.45"/><circle cx="1364.6" cy="403.4" r="3.45"/><circle cx="1366.6" cy="405.3" r="3.45"/><circle cx="1368.6" cy="406.4" r="3.45"/><circle cx="1370.6" cy="357.3" r="3.45"/><circle cx="1372.6" cy="407.3" r="3.45"/><circle cx="1374.6" cy="405.3" r="3.45"/><circle cx="1376.6" cy="398.4" r="3.45"/><circle cx="1378.5" cy="385.2" r="3.45"/><circle cx="1380.5" cy="389.4" r="3.45"/><circle cx="1381.6" cy="401.4" r="3.45"/><circle cx="1383.4" cy="415.3" r="3.45"/><circle cx="1385.4" cy="390.1" r="3.45"/><circle cx="1387.4" cy="394.7" r="3.45"/><circle cx="1389.4" cy="391.4" r="3.45"/><circle cx="1391.4" cy="399.4" r="3.45"/><circle cx="1393.4" cy="397.4" r="3.45"/><circle cx="1395.4" cy="393.4" r="3.45"/><circle cx="1397.4" cy="405.3" r="3.45"/><circle cx="1399.4" cy="416.4" r="3.45"/><circle cx="1401.4" cy="418.3" r="3.45"/><circle cx="1402.4" cy="406.4" r="3.45"/><circle cx="1404.4" cy="400.4" r="3.45"/><circle cx="1406.4" cy="414.4" r="3.45"/><circle cx="1408.4" cy="402.0" r="3.45"/><circle cx="1410.4" cy="404.3" r="3.45"/><circle cx="1412.4" cy="410.9" r="3.45"/><circle cx="1416.3" cy="414.4" r="3.45"/><circle cx="1420.6" cy="394.5" r="3.45"/><circle cx="1422.6" cy="420.6" r="3.45"/><circle cx="1423.4" cy="409.3" r="3.45"/><circle cx="1426.0" cy="413.6" r="3.45"/></g>
<line x1="266.08" y1="387.4" x2="1425.0" y2="401.9" stroke="#000" stroke-width="2.1" stroke-linecap="square"/>
<rect x="208.5" y="307.5" width="1275.0" height="137.0" fill="none" stroke="#000" stroke-width="1" shape-rendering="crispEdges"/>
<g fill="#000"><rect x="266" y="445.0" width="1" height="4.6"/><rect x="380" y="445.0" width="1" height="4.6"/><rect x="497" y="445.0" width="1" height="4.6"/><rect x="613" y="445.0" width="1" height="4.6"/><rect x="731" y="445.0" width="1" height="4.6"/><rect x="848" y="445.0" width="1" height="4.6"/><rect x="964" y="445.0" width="1" height="4.6"/><rect x="1076" y="445.0" width="1" height="4.6"/><rect x="1193" y="445.0" width="1" height="4.6"/><rect x="1309" y="445.0" width="1" height="4.6"/><rect x="1427" y="445.0" width="1" height="4.6"/><rect x="203.4" y="314" width="4.6" height="1"/><rect x="203.4" y="351" width="4.6" height="1"/><rect x="203.4" y="388" width="4.6" height="1"/><rect x="203.4" y="425" width="4.6" height="1"/></g>
</g>
<g>
<g fill="#000099"><circle cx="393.8" cy="523.2" r="3.45"/><circle cx="399.5" cy="530.4" r="3.45"/><circle cx="496.8" cy="516.9" r="3.45"/><circle cx="504.4" cy="533.4" r="3.45"/><circle cx="508.2" cy="531.5" r="3.45"/><circle cx="542.5" cy="549.5" r="3.45"/><circle cx="552.0" cy="552.0" r="3.45"/><circle cx="573.0" cy="556.0" r="3.45"/><circle cx="622.6" cy="551.5" r="3.45"/><circle cx="637.8" cy="561.5" r="3.45"/><circle cx="777.0" cy="557.6" r="3.45"/><circle cx="796.1" cy="565.6" r="3.45"/><circle cx="809.4" cy="570.9" r="3.45"/><circle cx="826.6" cy="577.8" r="3.45"/><circle cx="889.5" cy="560.2" r="3.45"/><circle cx="931.4" cy="570.8" r="3.45"/><circle cx="961.9" cy="578.7" r="3.45"/><circle cx="971.4" cy="577.7" r="3.45"/><circle cx="979.1" cy="574.6" r="3.45"/><circle cx="1011.5" cy="569.0" r="3.45"/><circle cx="1095.4" cy="587.4" r="3.45"/><circle cx="1135.4" cy="594.1" r="3.45"/><circle cx="1171.6" cy="584.8" r="3.45"/><circle cx="1196.4" cy="597.7" r="3.45"/><circle cx="1217.4" cy="592.0" r="3.45"/><circle cx="1284.1" cy="598.1" r="3.45"/><circle cx="1301.3" cy="604.0" r="3.45"/><circle cx="1339.4" cy="611.1" r="3.45"/><circle cx="1400.4" cy="618.4" r="3.45"/><circle cx="1419.5" cy="617.9" r="3.45"/><circle cx="266.4" cy="520.5" r="3.45"/><circle cx="268.6" cy="531.4" r="3.45"/><circle cx="270.6" cy="531.4" r="3.45"/><circle cx="272.5" cy="507.3" r="3.45"/><circle cx="285.4" cy="522.5" r="3.45"/><circle cx="287.4" cy="530.5" r="3.45"/><circle cx="289.4" cy="524.5" r="3.45"/><circle cx="291.4" cy="519.0" r="3.45"/><circle cx="293.4" cy="532.7" r="3.45"/><circle cx="295.5" cy="536.7" r="3.45"/><circle cx="296.4" cy="526.1" r="3.45"/><circle cx="298.4" cy="529.4" r="3.45"/><circle cx="300.4" cy="519.9" r="3.45"/><circle cx="302.4" cy="520.3" r="3.45"/><circle cx="304.4" cy="520.5" r="3.45"/><circle cx="306.4" cy="514.2" r="3.45"/><circle cx="308.4" cy="519.9" r="3.45"/><circle cx="310.3" cy="507.3" r="3.45"/><circle cx="312.3" cy="522.5" r="3.45"/><circle cx="314.3" cy="517.0" r="3.45"/><circle cx="316.3" cy="519.9" r="3.45"/><circle cx="317.6" cy="523.2" r="3.45"/><circle cx="319.4" cy="513.3" r="3.45"/><circle cx="321.4" cy="528.8" r="3.45"/><circle cx="323.3" cy="521.9" r="3.45"/><circle cx="325.3" cy="515.2" r="3.45"/><circle cx="327.3" cy="523.9" r="3.45"/><circle cx="329.3" cy="519.9" r="3.45"/><circle cx="331.3" cy="526.5" r="3.45"/><circle cx="333.3" cy="523.9" r="3.45"/><circle cx="335.3" cy="516.3" r="3.45"/><circle cx="336.2" cy="532.7" r="3.45"/><circle cx="338.2" cy="527.4" r="3.45"/><circle cx="340.5" cy="521.2" r="3.45"/><circle cx="342.4" cy="510.6" r="3.45"/><circle cx="344.4" cy="509.9" r="3.45"/><circle cx="346.4" cy="509.3" r="3.45"/><circle cx="348.4" cy="520.5" r="3.45"/><circle cx="350.4" cy="519.9" r="3.45"/><circle cx="352.4" cy="527.4" r="3.45"/><circle cx="354.4" cy="516.3" r="3.45"/><circle cx="356.4" cy="516.3" r="3.45"/><circle cx="357.4" cy="524.1" r="3.45"/><circle cx="363.4" cy="518.3" r="3.45"/><circle cx="365.4" cy="535.5" r="3.45"/><circle cx="367.4" cy="525.2" r="3.45"/><circle cx="369.4" cy="515.5" r="3.45"/><circle cx="371.4" cy="511.3" r="3.45"/><circle cx="373.3" cy="511.3" r="3.45"/><circle cx="375.3" cy="530.5" r="3.45"/><circle cx="377.3" cy="521.2" r="3.45"/><circle cx="378.4" cy="532.5" r="3.45"/><circle cx="380.6" cy="524.5" r="3.45"/><circle cx="382.6" cy="519.9" r="3.45"/><circle cx="384.6" cy="530.5" r="3.45"/><circle cx="386.6" cy="525.9" r="3.45"/><circle cx="388.6" cy="530.5" r="3.45"/><circle cx="390.6" cy="514.3" r="3.45"/><circle cx="392.6" cy="524.5" r="3.45"/><circle cx="396.4" cy="520.3" r="3.45"/><circle cx="398.4" cy="527.8" r="3.45"/><circle cx="400.5" cy="532.7" r="3.45"/><circle cx="402.5" cy="534.5" r="3.45"/><circle cx="404.5" cy="535.8" r="3.45"/><circle cx="406.5" cy="535.8" r="3.45"/><circle cx="408.5" cy="535.1" r="3.45"/><circle cx="411.4" cy="527.2" r="3.45"/><circle cx="413.4" cy="535.5" r="3.45"/><circle cx="415.4" cy="526.9" r="3.45"/><circle cx="417.4" cy="533.1" r="3.45"/><circle cx="420.4" cy="553.4" r="3.45"/><circle cx="422.4" cy="544.4" r="3.45"/><circle cx="424.4" cy="535.5" r="3.45"/><circle cx="426.4" cy="520.3" r="3.45"/><circle cx="428.4" cy="520.3" r="3.45"/><circle cx="430.4" cy="538.2" r="3.45"/><circle cx="432.4" cy="537.1" r="3.45"/><circle cx="434.4" cy="526.2" r="3.45"/><circle cx="436.3" cy="539.8" r="3.45"/><circle cx="438.3" cy="534.5" r="3.45"/><circle cx="439.4" cy="532.5" r="3.45"/><circle cx="441.4" cy="523.9" r="3.45"/><circle cx="443.4" cy="527.8" r="3.45"/><circle cx="445.6" cy="528.5" r="3.45"/><circle cx="447.6" cy="534.9" r="3.45"/><circle cx="448.9" cy="511.3" r="3.45"/><circle cx="451.3" cy="534.5" r="3.45"/><circle cx="453.3" cy="531.2" r="3.45"/><circle cx="455.3" cy="529.4" r="3.45"/><circle cx="457.3" cy="527.2" r="3.45"/><circle cx="459.3" cy="526.1" r="3.45"/><circle cx="462.6" cy="536.5" r="3.45"/><circle cx="464.6" cy="533.2" r="3.45"/><circle cx="466.6" cy="524.3" r="3.45"/><circle cx="468.5" cy="528.2" r="3.45"/><circle cx="470.5" cy="521.2" r="3.45"/><circle cx="472.5" cy="528.2" r="3.45"/><circle cx="474.2" cy="549.7" r="3.45"/><circle cx="476.5" cy="511.3" r="3.45"/><circle cx="478.5" cy="551.5" r="3.45"/><circle cx="480.5" cy="538.5" r="3.45"/><circle cx="483.4" cy="525.2" r="3.45"/><circle cx="485.4" cy="538.5" r="3.45"/><circle cx="487.4" cy="523.6" r="3.45"/><circle cx="489.4" cy="520.3" r="3.45"/><circle cx="493.5" cy="543.4" r="3.45"/><circle cx="495.5" cy="517.2" r="3.45"/><circle cx="499.4" cy="516.3" r="3.45"/><circle cx="502.4" cy="533.4" r="3.45"/><circle cx="506.3" cy="533.4" r="3.45"/><circle cx="510.3" cy="529.2" r="3.45"/><circle cx="512.3" cy="552.4" r="3.45"/><circle cx="514.3" cy="536.1" r="3.45"/><circle cx="518.3" cy="544.4" r="3.45"/><circle cx="520.3" cy="547.3" r="3.45"/><circle cx="521.3" cy="530.5" r="3.45"/><circle cx="523.3" cy="545.5" r="3.45"/><circle cx="525.3" cy="523.2" r="3.45"/><circle cx="527.3" cy="527.2" r="3.45"/><circle cx="529.3" cy="533.2" r="3.45"/><circle cx="531.3" cy="524.3" r="3.45"/><circle cx="533.3" cy="550.4" r="3.45"/><circle cx="535.3" cy="531.2" r="3.45"/><circle cx="537.5" cy="534.2" r="3.45"/><circle cx="539.5" cy="536.5" r="3.45"/><circle cx="541.5" cy="550.4" r="3.45"/><circle cx="544.4" cy="547.7" r="3.45"/><circle cx="546.4" cy="536.1" r="3.45"/><circle cx="548.4" cy="542.4" r="3.45"/><circle cx="550.4" cy="551.5" r="3.45"/><circle cx="553.2" cy="552.4" r="3.45"/><circle cx="554.4" cy="559.4" r="3.45"/><circle cx="558.5" cy="535.4" r="3.45"/><circle cx="560.3" cy="555.4" r="3.45"/><circle cx="562.3" cy="548.4" r="3.45"/><circle cx="564.3" cy="549.7" r="3.45"/><circle cx="566.3" cy="541.5" r="3.45"/><circle cx="567.4" cy="553.4" r="3.45"/><circle cx="569.6" cy="538.5" r="3.45"/><circle cx="571.3" cy="555.4" r="3.45"/><circle cx="574.2" cy="556.4" r="3.45"/><circle cx="576.6" cy="556.4" r="3.45"/><circle cx="579.3" cy="556.4" r="3.45"/><circle cx="581.3" cy="549.5" r="3.45"/><circle cx="582.6" cy="556.4" r="3.45"/><circle cx="584.6" cy="558.4" r="3.45"/><circle cx="586.3" cy="549.5" r="3.45"/><circle cx="588.3" cy="542.4" r="3.45"/><circle cx="590.6" cy="558.4" r="3.45"/><circle cx="592.6" cy="564.6" r="3.45"/><circle cx="594.5" cy="539.4" r="3.45"/><circle cx="596.5" cy="545.5" r="3.45"/><circle cx="598.3" cy="554.4" r="3.45"/><circle cx="600.5" cy="537.4" r="3.45"/><circle cx="602.5" cy="553.4" r="3.45"/><circle cx="603.4" cy="550.4" r="3.45"/><circle cx="605.4" cy="553.4" r="3.45"/><circle cx="607.4" cy="544.2" r="3.45"/><circle cx="609.4" cy="512.3" r="3.45"/><circle cx="613.4" cy="556.4" r="3.45"/><circle cx="615.4" cy="567.6" r="3.45"/><circle cx="617.4" cy="562.3" r="3.45"/><circle cx="619.3" cy="552.4" r="3.45"/><circle cx="621.3" cy="551.5" r="3.45"/><circle cx="623.7" cy="556.4" r="3.45"/><circle cx="625.0" cy="551.5" r="3.45"/><circle cx="626.4" cy="570.3" r="3.45"/><circle cx="628.4" cy="562.3" r="3.45"/><circle cx="630.4" cy="559.0" r="3.45"/><circle cx="632.3" cy="546.4" r="3.45"/><circle cx="634.3" cy="566.3" r="3.45"/><circle cx="636.6" cy="561.4" r="3.45"/><circle cx="639.0" cy="561.7" r="3.45"/><circle cx="640.3" cy="568.3" r="3.45"/><circle cx="642.3" cy="570.3" r="3.45"/><circle cx="644.3" cy="548.4" r="3.45"/><circle cx="645.6" cy="565.0" r="3.45"/><circle cx="647.6" cy="555.5" r="3.45"/><circle cx="649.6" cy="547.1" r="3.45"/><circle cx="653.5" cy="537.5" r="3.45"/><circle cx="655.3" cy="566.4" r="3.45"/><circle cx="657.6" cy="563.4" r="3.45"/><circle cx="659.6" cy="567.4" r="3.45"/><circle cx="661.6" cy="571.4" r="3.45"/><circle cx="663.5" cy="564.4" r="3.45"/><circle cx="665.2" cy="566.4" r="3.45"/><circle cx="666.5" cy="557.3" r="3.45"/><circle cx="668.5" cy="565.0" r="3.45"/><circle cx="670.2" cy="571.4" r="3.45"/><circle cx="672.5" cy="558.4" r="3.45"/><circle cx="674.5" cy="568.4" r="3.45"/><circle cx="676.5" cy="555.5" r="3.45"/><circle cx="678.5" cy="549.4" r="3.45"/><circle cx="684.4" cy="554.2" r="3.45"/><circle cx="686.4" cy="559.7" r="3.45"/><circle cx="687.5" cy="562.4" r="3.45"/><circle cx="689.5" cy="557.1" r="3.45"/><circle cx="691.5" cy="564.4" r="3.45"/><circle cx="693.5" cy="573.4" r="3.45"/><circle cx="695.4" cy="571.4" r="3.45"/><circle cx="699.4" cy="584.3" r="3.45"/><circle cx="701.3" cy="556.4" r="3.45"/><circle cx="703.3" cy="566.4" r="3.45"/><circle cx="705.3" cy="562.1" r="3.45"/><circle cx="708.3" cy="548.5" r="3.45"/><circle cx="712.3" cy="583.3" r="3.45"/><circle cx="714.3" cy="562.4" r="3.45"/><circle cx="716.3" cy="552.4" r="3.45"/><circle cx="718.5" cy="570.6" r="3.45"/><circle cx="720.2" cy="545.5" r="3.45"/><circle cx="724.2" cy="559.5" r="3.45"/><circle cx="726.2" cy="572.3" r="3.45"/><circle cx="727.5" cy="561.5" r="3.45"/><circle cx="729.3" cy="549.4" r="3.45"/><circle cx="731.5" cy="578.3" r="3.45"/><circle cx="733.5" cy="566.4" r="3.45"/><circle cx="735.5" cy="557.3" r="3.45"/><circle cx="743.5" cy="556.4" r="3.45"/><circle cx="745.4" cy="578.6" r="3.45"/><circle cx="748.4" cy="572.3" r="3.45"/><circle cx="750.4" cy="573.4" r="3.45"/><circle cx="752.3" cy="560.4" r="3.45"/><circle cx="754.5" cy="534.5" r="3.45"/><circle cx="756.3" cy="562.4" r="3.45"/><circle cx="758.3" cy="563.4" r="3.45"/><circle cx="760.3" cy="550.5" r="3.45"/><circle cx="764.3" cy="562.4" r="3.45"/><circle cx="766.3" cy="558.4" r="3.45"/><circle cx="767.3" cy="582.5" r="3.45"/><circle cx="769.3" cy="573.4" r="3.45"/><circle cx="771.3" cy="572.3" r="3.45"/><circle cx="773.3" cy="563.4" r="3.45"/><circle cx="775.3" cy="557.7" r="3.45"/><circle cx="779.3" cy="557.3" r="3.45"/><circle cx="781.3" cy="565.4" r="3.45"/><circle cx="783.2" cy="570.3" r="3.45"/><circle cx="785.2" cy="547.4" r="3.45"/><circle cx="787.2" cy="576.3" r="3.45"/><circle cx="788.6" cy="566.4" r="3.45"/><circle cx="790.3" cy="537.5" r="3.45"/><circle cx="794.5" cy="564.4" r="3.45"/><circle cx="798.5" cy="567.4" r="3.45"/><circle cx="800.5" cy="571.4" r="3.45"/><circle cx="802.5" cy="548.5" r="3.45"/><circle cx="804.5" cy="551.5" r="3.45"/><circle cx="806.5" cy="585.3" r="3.45"/><circle cx="808.4" cy="571.4" r="3.45"/><circle cx="810.4" cy="570.3" r="3.45"/><circle cx="812.4" cy="570.3" r="3.45"/><circle cx="813.4" cy="558.4" r="3.45"/><circle cx="815.3" cy="567.4" r="3.45"/><circle cx="817.3" cy="575.4" r="3.45"/><circle cx="819.5" cy="559.5" r="3.45"/><circle cx="821.4" cy="557.3" r="3.45"/><circle cx="823.4" cy="568.4" r="3.45"/><circle cx="825.4" cy="579.4" r="3.45"/><circle cx="828.3" cy="575.4" r="3.45"/><circle cx="830.3" cy="552.4" r="3.45"/><circle cx="832.3" cy="569.3" r="3.45"/><circle cx="834.3" cy="566.4" r="3.45"/><circle cx="836.3" cy="578.3" r="3.45"/><circle cx="838.3" cy="559.5" r="3.45"/><circle cx="840.3" cy="581.4" r="3.45"/><circle cx="841.6" cy="547.8" r="3.45"/><circle cx="844.4" cy="550.2" r="3.45"/><circle cx="846.4" cy="568.4" r="3.45"/><circle cx="848.3" cy="593.6" r="3.45"/><circle cx="849.5" cy="554.4" r="3.45"/><circle cx="853.3" cy="576.5" r="3.45"/><circle cx="855.2" cy="573.4" r="3.45"/><circle cx="857.2" cy="577.4" r="3.45"/><circle cx="859.2" cy="583.4" r="3.45"/><circle cx="861.2" cy="570.8" r="3.45"/><circle cx="863.2" cy="574.5" r="3.45"/><circle cx="865.5" cy="567.2" r="3.45"/><circle cx="867.4" cy="570.5" r="3.45"/><circle cx="869.4" cy="542.2" r="3.45"/><circle cx="871.2" cy="571.4" r="3.45"/><circle cx="872.5" cy="581.4" r="3.45"/><circle cx="874.5" cy="573.4" r="3.45"/><circle cx="876.5" cy="564.8" r="3.45"/><circle cx="878.5" cy="575.4" r="3.45"/><circle cx="880.4" cy="589.6" r="3.45"/><circle cx="882.4" cy="564.8" r="3.45"/><circle cx="886.4" cy="557.2" r="3.45"/><circle cx="888.4" cy="554.2" r="3.45"/><circle cx="891.4" cy="562.1" r="3.45"/><circle cx="893.4" cy="568.4" r="3.45"/><circle cx="895.3" cy="565.2" r="3.45"/><circle cx="897.3" cy="572.3" r="3.45"/><circle cx="901.4" cy="563.5" r="3.45"/><circle cx="903.4" cy="573.4" r="3.45"/><circle cx="905.4" cy="569.2" r="3.45"/><circle cx="907.4" cy="575.4" r="3.45"/><circle cx="909.4" cy="577.7" r="3.45"/><circle cx="910.5" cy="562.1" r="3.45"/><circle cx="912.3" cy="567.4" r="3.45"/><circle cx="914.3" cy="568.1" r="3.45"/><circle cx="916.2" cy="569.4" r="3.45"/><circle cx="918.2" cy="565.2" r="3.45"/><circle cx="920.2" cy="568.8" r="3.45"/><circle cx="922.2" cy="565.2" r="3.45"/><circle cx="924.2" cy="570.5" r="3.45"/><circle cx="926.2" cy="562.1" r="3.45"/><circle cx="928.2" cy="568.8" r="3.45"/><circle cx="930.4" cy="569.4" r="3.45"/><circle cx="933.2" cy="573.4" r="3.45"/><circle cx="935.5" cy="565.2" r="3.45"/><circle cx="937.5" cy="570.5" r="3.45"/><circle cx="939.5" cy="580.4" r="3.45"/><circle cx="941.4" cy="577.4" r="3.45"/><circle cx="943.4" cy="580.4" r="3.45"/><circle cx="945.4" cy="578.4" r="3.45"/><circle cx="947.4" cy="580.4" r="3.45"/><circle cx="949.4" cy="581.4" r="3.45"/><circle cx="951.4" cy="568.1" r="3.45"/><circle cx="952.3" cy="575.4" r="3.45"/><circle cx="954.3" cy="566.4" r="3.45"/><circle cx="956.3" cy="579.4" r="3.45"/><circle cx="958.3" cy="577.4" r="3.45"/><circle cx="960.3" cy="579.4" r="3.45"/><circle cx="963.3" cy="578.1" r="3.45"/><circle cx="966.2" cy="578.4" r="3.45"/><circle cx="968.2" cy="584.7" r="3.45"/><circle cx="970.2" cy="578.4" r="3.45"/><circle cx="973.3" cy="576.5" r="3.45"/><circle cx="975.3" cy="537.3" r="3.45"/><circle cx="977.3" cy="576.5" r="3.45"/><circle cx="981.2" cy="572.3" r="3.45"/><circle cx="987.5" cy="571.4" r="3.45"/><circle cx="989.5" cy="562.4" r="3.45"/><circle cx="991.4" cy="589.6" r="3.45"/><circle cx="993.4" cy="568.1" r="3.45"/><circle cx="995.4" cy="567.4" r="3.45"/><circle cx="998.5" cy="572.3" r="3.45"/><circle cx="1000.5" cy="565.5" r="3.45"/><circle cx="1002.5" cy="579.4" r="3.45"/><circle cx="1004.4" cy="559.5" r="3.45"/><circle cx="1006.4" cy="575.4" r="3.45"/><circle cx="1008.4" cy="580.4" r="3.45"/><circle cx="1010.4" cy="570.5" r="3.45"/><circle cx="1013.3" cy="566.4" r="3.45"/><circle cx="1015.5" cy="570.1" r="3.45"/><circle cx="1017.4" cy="580.4" r="3.45"/><circle cx="1019.4" cy="571.4" r="3.45"/><circle cx="1021.4" cy="588.4" r="3.45"/><circle cx="1023.4" cy="572.1" r="3.45"/><circle cx="1025.4" cy="574.5" r="3.45"/><circle cx="1027.4" cy="572.3" r="3.45"/><circle cx="1029.4" cy="559.5" r="3.45"/><circle cx="1031.4" cy="562.5" r="3.45"/><circle cx="1033.4" cy="610.3" r="3.45"/><circle cx="1034.3" cy="581.4" r="3.45"/><circle cx="1036.3" cy="583.4" r="3.45"/><circle cx="1037.6" cy="575.4" r="3.45"/><circle cx="1034.7" cy="562.5" r="3.45"/><circle cx="1040.4" cy="569.2" r="3.45"/><circle cx="1042.4" cy="570.5" r="3.45"/><circle cx="1044.3" cy="566.1" r="3.45"/><circle cx="1049.6" cy="583.1" r="3.45"/><circle cx="1052.3" cy="584.4" r="3.45"/><circle cx="1054.3" cy="562.3" r="3.45"/><circle cx="1055.5" cy="594.4" r="3.45"/><circle cx="1057.5" cy="577.5" r="3.45"/><circle cx="1059.5" cy="573.2" r="3.45"/><circle cx="1061.5" cy="578.5" r="3.45"/><circle cx="1063.4" cy="586.4" r="3.45"/><circle cx="1065.4" cy="579.4" r="3.45"/><circle cx="1067.4" cy="588.4" r="3.45"/><circle cx="1069.4" cy="580.2" r="3.45"/><circle cx="1071.4" cy="576.2" r="3.45"/><circle cx="1073.4" cy="579.1" r="3.45"/><circle cx="1074.5" cy="580.5" r="3.45"/><circle cx="1076.4" cy="588.4" r="3.45"/><circle cx="1078.4" cy="598.4" r="3.45"/><circle cx="1080.4" cy="594.4" r="3.45"/><circle cx="1082.4" cy="597.4" r="3.45"/><circle cx="1084.4" cy="603.4" r="3.45"/><circle cx="1086.4" cy="596.4" r="3.45"/><circle cx="1088.4" cy="601.4" r="3.45"/><circle cx="1090.4" cy="590.4" r="3.45"/><circle cx="1092.4" cy="590.1" r="3.45"/><circle cx="1094.3" cy="589.1" r="3.45"/><circle cx="1096.3" cy="585.8" r="3.45"/><circle cx="1099.4" cy="584.2" r="3.45"/><circle cx="1101.4" cy="598.4" r="3.45"/><circle cx="1103.4" cy="602.3" r="3.45"/><circle cx="1105.4" cy="594.4" r="3.45"/><circle cx="1107.3" cy="585.1" r="3.45"/><circle cx="1109.3" cy="578.5" r="3.45"/><circle cx="1111.3" cy="592.4" r="3.45"/><circle cx="1113.3" cy="576.1" r="3.45"/><circle cx="1115.3" cy="583.4" r="3.45"/><circle cx="1118.2" cy="568.2" r="3.45"/><circle cx="1120.2" cy="583.4" r="3.45"/><circle cx="1122.5" cy="571.4" r="3.45"/><circle cx="1124.5" cy="580.2" r="3.45"/><circle cx="1130.4" cy="594.4" r="3.45"/><circle cx="1132.4" cy="597.4" r="3.45"/><circle cx="1134.4" cy="600.6" r="3.45"/><circle cx="1136.4" cy="593.1" r="3.45"/><circle cx="1138.4" cy="590.4" r="3.45"/><circle cx="1140.4" cy="585.8" r="3.45"/><circle cx="1142.4" cy="592.4" r="3.45"/><circle cx="1144.3" cy="592.1" r="3.45"/><circle cx="1145.4" cy="583.1" r="3.45"/><circle cx="1147.4" cy="592.4" r="3.45"/><circle cx="1149.4" cy="593.1" r="3.45"/><circle cx="1151.4" cy="593.4" r="3.45"/><circle cx="1153.4" cy="595.0" r="3.45"/><circle cx="1156.3" cy="587.1" r="3.45"/><circle cx="1158.3" cy="598.4" r="3.45"/><circle cx="1160.3" cy="579.4" r="3.45"/><circle cx="1162.2" cy="590.4" r="3.45"/><circle cx="1164.2" cy="586.4" r="3.45"/><circle cx="1166.2" cy="596.4" r="3.45"/><circle cx="1168.2" cy="577.5" r="3.45"/><circle cx="1170.2" cy="584.4" r="3.45"/><circle cx="1172.6" cy="577.5" r="3.45"/><circle cx="1174.6" cy="585.5" r="3.45"/><circle cx="1176.6" cy="620.5" r="3.45"/><circle cx="1177.2" cy="569.4" r="3.45"/><circle cx="1179.2" cy="593.4" r="3.45"/><circle cx="1181.2" cy="579.4" r="3.45"/><circle cx="1183.5" cy="567.5" r="3.45"/><circle cx="1185.5" cy="580.2" r="3.45"/><circle cx="1187.4" cy="589.5" r="3.45"/><circle cx="1189.4" cy="600.3" r="3.45"/><circle cx="1191.4" cy="608.6" r="3.45"/><circle cx="1193.4" cy="588.4" r="3.45"/><circle cx="1195.4" cy="599.3" r="3.45"/><circle cx="1197.4" cy="614.3" r="3.45"/><circle cx="1198.5" cy="594.4" r="3.45"/><circle cx="1200.4" cy="576.2" r="3.45"/><circle cx="1202.4" cy="601.4" r="3.45"/><circle cx="1204.4" cy="595.4" r="3.45"/><circle cx="1206.4" cy="589.5" r="3.45"/><circle cx="1210.4" cy="607.4" r="3.45"/><circle cx="1212.4" cy="587.7" r="3.45"/><circle cx="1214.4" cy="585.5" r="3.45"/><circle cx="1216.4" cy="589.5" r="3.45"/><circle cx="1218.4" cy="594.4" r="3.45"/><circle cx="1219.4" cy="605.4" r="3.45"/><circle cx="1221.4" cy="619.6" r="3.45"/><circle cx="1223.4" cy="594.4" r="3.45"/><circle cx="1225.4" cy="588.4" r="3.45"/><circle cx="1227.4" cy="614.3" r="3.45"/><circle cx="1229.4" cy="605.4" r="3.45"/><circle cx="1230.9" cy="598.4" r="3.45"/><circle cx="1232.9" cy="607.6" r="3.45"/><circle cx="1233.6" cy="585.8" r="3.45"/><circle cx="1208.4" cy="507.4" r="3.45"/><circle cx="1235.6" cy="585.2" r="3.45"/><circle cx="1237.6" cy="603.4" r="3.45"/><circle cx="1238.6" cy="601.4" r="3.45"/><circle cx="1240.3" cy="595.1" r="3.45"/><circle cx="1242.6" cy="603.4" r="3.45"/><circle cx="1244.6" cy="604.3" r="3.45"/><circle cx="1246.6" cy="609.6" r="3.45"/><circle cx="1248.6" cy="594.5" r="3.45"/><circle cx="1250.6" cy="591.4" r="3.45"/><circle cx="1252.5" cy="588.8" r="3.45"/><circle cx="1254.5" cy="599.4" r="3.45"/><circle cx="1256.5" cy="582.1" r="3.45"/><circle cx="1258.2" cy="576.4" r="3.45"/><circle cx="1259.4" cy="585.5" r="3.45"/><circle cx="1261.4" cy="602.4" r="3.45"/><circle cx="1263.2" cy="597.4" r="3.45"/><circle cx="1265.1" cy="594.5" r="3.45"/><circle cx="1267.4" cy="589.2" r="3.45"/><circle cx="1269.4" cy="605.6" r="3.45"/><circle cx="1271.4" cy="598.1" r="3.45"/><circle cx="1273.4" cy="598.4" r="3.45"/><circle cx="1275.5" cy="590.5" r="3.45"/><circle cx="1277.3" cy="594.5" r="3.45"/><circle cx="1279.3" cy="603.4" r="3.45"/><circle cx="1282.4" cy="597.1" r="3.45"/><circle cx="1286.4" cy="599.4" r="3.45"/><circle cx="1288.4" cy="608.4" r="3.45"/><circle cx="1290.3" cy="607.3" r="3.45"/><circle cx="1292.3" cy="602.0" r="3.45"/><circle cx="1294.3" cy="596.1" r="3.45"/><circle cx="1296.3" cy="603.4" r="3.45"/><circle cx="1298.3" cy="602.0" r="3.45"/><circle cx="1300.3" cy="599.8" r="3.45"/><circle cx="1302.3" cy="609.6" r="3.45"/><circle cx="1303.3" cy="605.3" r="3.45"/><circle cx="1305.3" cy="612.4" r="3.45"/><circle cx="1307.3" cy="607.3" r="3.45"/><circle cx="1309.3" cy="594.5" r="3.45"/><circle cx="1311.3" cy="611.3" r="3.45"/><circle cx="1313.3" cy="609.3" r="3.45"/><circle cx="1315.3" cy="608.4" r="3.45"/><circle cx="1317.3" cy="616.4" r="3.45"/><circle cx="1319.3" cy="620.6" r="3.45"/><circle cx="1320.5" cy="585.2" r="3.45"/><circle cx="1322.4" cy="615.3" r="3.45"/><circle cx="1324.4" cy="609.3" r="3.45"/><circle cx="1326.4" cy="611.3" r="3.45"/><circle cx="1328.4" cy="605.3" r="3.45"/><circle cx="1330.4" cy="623.5" r="3.45"/><circle cx="1332.4" cy="614.4" r="3.45"/><circle cx="1334.4" cy="609.6" r="3.45"/><circle cx="1336.4" cy="609.6" r="3.45"/><circle cx="1338.4" cy="603.0" r="3.45"/><circle cx="1340.3" cy="630.3" r="3.45"/><circle cx="1342.3" cy="612.6" r="3.45"/><circle cx="1344.3" cy="610.0" r="3.45"/><circle cx="1345.4" cy="613.6" r="3.45"/><circle cx="1347.4" cy="615.3" r="3.45"/><circle cx="1349.4" cy="616.6" r="3.45"/><circle cx="1351.4" cy="611.3" r="3.45"/><circle cx="1353.3" cy="606.4" r="3.45"/><circle cx="1355.3" cy="614.4" r="3.45"/><circle cx="1357.3" cy="618.3" r="3.45"/><circle cx="1362.2" cy="625.2" r="3.45"/><circle cx="1364.6" cy="616.6" r="3.45"/><circle cx="1366.6" cy="612.0" r="3.45"/><circle cx="1368.6" cy="611.3" r="3.45"/><circle cx="1370.6" cy="599.4" r="3.45"/><circle cx="1372.6" cy="611.3" r="3.45"/><circle cx="1374.6" cy="609.6" r="3.45"/><circle cx="1376.6" cy="607.3" r="3.45"/><circle cx="1378.5" cy="581.2" r="3.45"/><circle cx="1380.5" cy="594.5" r="3.45"/><circle cx="1381.6" cy="603.4" r="3.45"/><circle cx="1383.4" cy="607.3" r="3.45"/><circle cx="1385.4" cy="600.0" r="3.45"/><circle cx="1387.4" cy="590.5" r="3.45"/><circle cx="1389.4" cy="585.2" r="3.45"/><circle cx="1391.4" cy="597.4" r="3.45"/><circle cx="1393.4" cy="605.3" r="3.45"/><circle cx="1395.4" cy="608.4" r="3.45"/><circle cx="1397.4" cy="613.3" r="3.45"/><circle cx="1399.4" cy="620.6" r="3.45"/><circle cx="1401.4" cy="616.4" r="3.45"/><circle cx="1402.4" cy="609.6" r="3.45"/><circle cx="1404.4" cy="598.4" r="3.45"/><circle cx="1406.4" cy="605.3" r="3.45"/><circle cx="1408.4" cy="605.3" r="3.45"/><circle cx="1410.4" cy="614.4" r="3.45"/><circle cx="1412.4" cy="605.3" r="3.45"/><circle cx="1416.3" cy="617.5" r="3.45"/><circle cx="1420.6" cy="593.4" r="3.45"/><circle cx="1422.6" cy="618.3" r="3.45"/><circle cx="1423.4" cy="621.5" r="3.45"/><circle cx="1426.0" cy="623.2" r="3.45"/></g>
<line x1="266.08" y1="520.9" x2="1425.0" y2="612.7" stroke="#000" stroke-width="2.1" stroke-linecap="square"/>
<rect x="208.5" y="500.5" width="1275.0" height="137.0" fill="none" stroke="#000" stroke-width="1" shape-rendering="crispEdges"/>
<g fill="#000"><rect x="266" y="638.0" width="1" height="4.6"/><rect x="380" y="638.0" width="1" height="4.6"/><rect x="497" y="638.0" width="1" height="4.6"/><rect x="613" y="638.0" width="1" height="4.6"/><rect x="731" y="638.0" width="1" height="4.6"/><rect x="848" y="638.0" width="1" height="4.6"/><rect x="964" y="638.0" width="1" height="4.6"/><rect x="1076" y="638.0" width="1" height="4.6"/><rect x="1193" y="638.0" width="1" height="4.6"/><rect x="1309" y="638.0" width="1" height="4.6"/><rect x="1427" y="638.0" width="1" height="4.6"/><rect x="203.4" y="512" width="4.6" height="1"/><rect x="203.4" y="558" width="4.6" height="1"/><rect x="203.4" y="604" width="4.6" height="1"/></g>
</g>
<g style="will-change:transform"><g><text transform="translate(297.36,36.70) scale(1.0881,1)" font-size="29.4">Station</text><text transform="translate(405.02,36.70) scale(0.9324,1)" font-size="29.4">GNSS</text><text transform="translate(491.77,36.70) scale(1.0567,1)" font-size="29.4">-</text><text transform="translate(509.80,36.70) scale(0.9462,1)" font-size="29.4">THPK</text><text transform="translate(591.31,36.70) scale(1.4639,1)" font-size="29.4">:</text><text transform="translate(609.80,36.70) scale(1.0673,1)" font-size="29.4">Southern</text><text transform="translate(745.43,36.70) scale(1.0660,1)" font-size="29.4">Meteorological</text><text transform="translate(957.58,36.70) scale(1.0616,1)" font-size="29.4">Center</text><text transform="translate(1060.64,36.70) scale(1.0269,1)" font-size="29.4">(West</text><text transform="translate(1147.56,36.70) scale(1.0388,1)" font-size="29.4">Coast)</text></g><text transform="translate(156.77,152.50) scale(1.1031,1)" font-size="14.7">−0.06</text><text transform="translate(156.80,187.50) scale(1.1031,1)" font-size="14.7">−0.07</text><text transform="translate(156.79,221.50) scale(1.1031,1)" font-size="14.7">−0.08</text><text transform="translate(156.73,256.50) scale(1.1031,1)" font-size="14.7">−0.09</text><text transform="translate(207.88,110.60) scale(1.0871,1)" font-size="14.7">−9.124684e5</text><text transform="translate(146.60,219.24) rotate(-90) scale(1.0953,1)" font-size="14.7">North (m)</text><text transform="translate(160.17,319.50) scale(1.0163,1)" font-size="14.7">0.900</text><text transform="translate(160.35,356.50) scale(1.0163,1)" font-size="14.7">0.875</text><text transform="translate(160.17,393.50) scale(1.0163,1)" font-size="14.7">0.850</text><text transform="translate(160.35,430.50) scale(1.0163,1)" font-size="14.7">0.825</text><text transform="translate(208.74,302.60) scale(1.0779,1)" font-size="14.7">+6.248569e6</text><text transform="translate(149.60,407.14) rotate(-90) scale(1.0729,1)" font-size="14.7">East (m)</text><text transform="translate(168.10,517.50) scale(1.0331,1)" font-size="14.7">0.20</text><text transform="translate(167.99,563.50) scale(1.0331,1)" font-size="14.7">0.19</text><text transform="translate(168.08,609.50) scale(1.0331,1)" font-size="14.7">0.18</text><text transform="translate(208.72,495.60) scale(1.0798,1)" font-size="14.7">+8.93257e5</text><text transform="translate(157.70,615.91) rotate(-90) scale(1.0808,1)" font-size="14.7">Elevation (m)</text><text transform="translate(237.41,657.90) scale(1.0762,1)" font-size="14.7">2024-01</text><text transform="translate(351.97,657.90) scale(1.0762,1)" font-size="14.7">2024-03</text><text transform="translate(468.03,657.90) scale(1.0762,1)" font-size="14.7">2024-05</text><text transform="translate(584.37,657.90) scale(1.0762,1)" font-size="14.7">2024-07</text><text transform="translate(702.70,657.90) scale(1.0762,1)" font-size="14.7">2024-09</text><text transform="translate(819.48,657.90) scale(1.0762,1)" font-size="14.7">2024-11</text><text transform="translate(935.18,657.90) scale(1.0762,1)" font-size="14.7">2025-01</text><text transform="translate(1047.63,657.90) scale(1.0762,1)" font-size="14.7">2025-03</text><text transform="translate(1163.93,657.90) scale(1.0762,1)" font-size="14.7">2025-05</text><text transform="translate(1280.31,657.90) scale(1.0762,1)" font-size="14.7">2025-07</text><text transform="translate(1398.40,657.90) scale(1.0762,1)" font-size="14.7">2025-09</text><g><text transform="translate(804.62,677.60) scale(1.0253,1)" font-size="14.7">Doy</text><text transform="translate(836.68,677.60) scale(1.1179,1)" font-size="14.7">of</text><text transform="translate(855.21,677.60) scale(1.0660,1)" font-size="14.7">year</text></g><g><text transform="translate(708.83,693.60) scale(1.0799,1)" font-size="14.7">Sunday,</text><text transform="translate(770.20,693.60) scale(1.0301,1)" font-size="14.7">August</text><text transform="translate(822.58,693.60) scale(1.1034,1)" font-size="14.7">31,</text><text transform="translate(848.61,693.60) scale(1.0752,1)" font-size="14.7">2025</text><text transform="translate(888.54,693.60) scale(1.0700,1)" font-size="14.7">07:00:00</text><text transform="translate(954.50,693.60) scale(0.9250,1)" font-size="14.7">UTC</text></g></g>
</svg>
</body></html>
